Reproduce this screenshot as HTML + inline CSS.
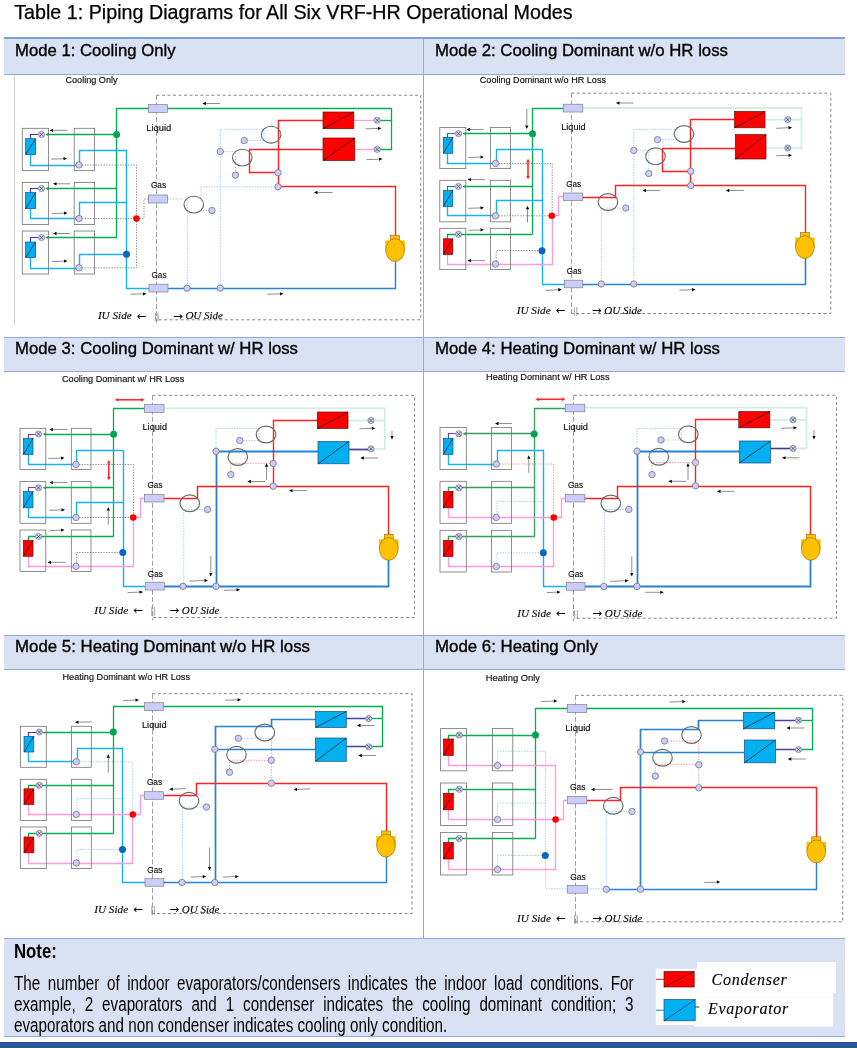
<!DOCTYPE html>
<html lang="en"><head><meta charset="utf-8"><title>Table 1: Piping Diagrams for All Six VRF-HR Operational Modes</title>
<style>
html,body{margin:0;padding:0;background:#fff}
body{width:857px;height:1048px;position:relative;overflow:hidden;font-family:"Liberation Sans",sans-serif;color:#000}
.abs{position:absolute}
.hdr{position:absolute;left:4px;width:841px;background:#d9e2f3;border-top:1px solid #8eaadb;border-bottom:1px solid #8eaadb;box-sizing:border-box}
.t{position:absolute;white-space:nowrap;transform-origin:0 0;line-height:1}
.nt{font-size:19.4px;line-height:22px;height:22px;transform:scaleX(0.785);color:#000}
.j{text-align:justify;text-align-last:justify;white-space:normal}
svg{position:absolute;left:0;top:0}
svg text{font-family:"Liberation Sans",sans-serif}
svg text.lab{stroke:#111;stroke-width:0.18px}
svg text.it{stroke:#000;stroke-width:0.12px}
svg text.ar{font-family:"DejaVu Sans","Liberation Sans",sans-serif}
svg text.it{font-family:"Liberation Serif","DejaVu Serif",serif;font-style:italic}
</style></head><body>
<div class="hdr" style="top:37px;height:38px;border-top:2px solid #7f9fd6"></div>
<div class="hdr" style="top:337px;height:35px"></div>
<div class="hdr" style="top:635px;height:35px"></div>
<div class="hdr" style="top:938px;height:99px"></div>
<div class="abs" style="left:423px;top:37px;width:1px;height:902px;background:#8eaadb"></div>
<div class="abs" style="left:0;top:1042px;width:857px;height:6px;background:#2b579a;border-top:1px solid #224b91;box-sizing:border-box"></div>
<svg width="857" height="1048" viewBox="0 0 857 1048">
<text x="14.2" y="19.3" font-size="19.8" textLength="558.5" lengthAdjust="spacingAndGlyphs" fill="#000" stroke="#000" stroke-width="0.25">Table 1: Piping Diagrams for All Six VRF-HR Operational Modes</text>
<g class="hd" font-size="17" fill="#000" stroke="#000" stroke-width="0.35">
<text x="15" y="56" textLength="160.5" lengthAdjust="spacingAndGlyphs">Mode 1: Cooling Only</text>
<text x="435" y="56" textLength="293" lengthAdjust="spacingAndGlyphs">Mode 2: Cooling Dominant w/o HR loss</text>
<text x="15" y="354" textLength="283" lengthAdjust="spacingAndGlyphs">Mode 3: Cooling Dominant w/ HR loss</text>
<text x="435" y="354" textLength="285" lengthAdjust="spacingAndGlyphs">Mode 4: Heating Dominant w/ HR loss</text>
<text x="15" y="652" textLength="295" lengthAdjust="spacingAndGlyphs">Mode 5: Heating Dominant w/o HR loss</text>
<text x="435" y="652" textLength="163" lengthAdjust="spacingAndGlyphs">Mode 6: Heating Only</text>
</g>
<rect x="14" y="75" width="1" height="250" fill="#d4d4d4"/>
<path d="M156.5 95.2 H420.8 V319.8 H156.5" fill="none" stroke="#868686" stroke-width="1" stroke-dasharray="3 2.5"/>
<path d="M156.5 95.2 V322.8" fill="none" stroke="#6e6e6e" stroke-width="0.65" stroke-dasharray="5 2.2"/>
<path d="M82 165 L136.5 165 L136.5 267.8 L82 267.8" fill="none" stroke="#747474" stroke-width="0.85" stroke-linejoin="miter" stroke-linecap="butt" stroke-dasharray="1.3 1.4"/>
<path d="M82 218.6 L133 218.6" fill="none" stroke="#747474" stroke-width="0.85" stroke-linejoin="miter" stroke-linecap="butt" stroke-dasharray="1.3 1.4"/>
<path d="M139.5 218.6 L144 218.6 L144 199 L148.5 199" fill="none" stroke="#747474" stroke-width="0.85" stroke-linejoin="miter" stroke-linecap="butt" stroke-dasharray="1.3 1.4"/>
<path d="M167.5 199 L184 199" fill="none" stroke="#8cc2ef" stroke-width="0.85" stroke-linejoin="miter" stroke-linecap="butt" stroke-dasharray="1.3 1.4"/>
<path d="M187.3 199 L187.3 287.6" fill="none" stroke="#8cc2ef" stroke-width="0.85" stroke-linejoin="miter" stroke-linecap="butt" stroke-dasharray="1.3 1.4"/>
<path d="M201 198 L201 186.8 L277.8 186.8" fill="none" stroke="#8cc2ef" stroke-width="0.85" stroke-linejoin="miter" stroke-linecap="butt" stroke-dasharray="1.3 1.4"/>
<path d="M203 210.4 L209 210.4" fill="none" stroke="#8cc2ef" stroke-width="0.85" stroke-linejoin="miter" stroke-linecap="butt" stroke-dasharray="1.3 1.4"/>
<path d="M220.3 287.6 L220.3 129.4 L264 129.4 L264 140.5 L247.5 140.5" fill="none" stroke="#8cc2ef" stroke-width="0.85" stroke-linejoin="miter" stroke-linecap="butt" stroke-dasharray="1.3 1.4"/>
<path d="M223.5 151.6 L235.5 151.6 L235.5 172" fill="none" stroke="#8cc2ef" stroke-width="0.85" stroke-linejoin="miter" stroke-linecap="butt" stroke-dasharray="1.3 1.4"/>
<path d="M47.5 134.5 L116.75 134.5" fill="none" stroke="#00b050" stroke-width="1.3" stroke-linejoin="miter" stroke-linecap="butt"/>
<path d="M45.2 134.5 l3.4 -1.7 v3.4 Z" fill="#00b050"/>
<path d="M38.5 134.5 L30.5 134.5 L30.5 139" fill="none" stroke="#3a3ab0" stroke-width="1.2" stroke-linejoin="miter" stroke-linecap="butt"/>
<path d="M47.5 188.5 L116.75 188.5" fill="none" stroke="#00b050" stroke-width="1.3" stroke-linejoin="miter" stroke-linecap="butt"/>
<path d="M45.2 188.5 l3.4 -1.7 v3.4 Z" fill="#00b050"/>
<path d="M38.5 188.5 L30.5 188.5 L30.5 193" fill="none" stroke="#3a3ab0" stroke-width="1.2" stroke-linejoin="miter" stroke-linecap="butt"/>
<path d="M47.5 237.5 L116.75 237.5" fill="none" stroke="#00b050" stroke-width="1.3" stroke-linejoin="miter" stroke-linecap="butt"/>
<path d="M45.2 237.5 l3.4 -1.7 v3.4 Z" fill="#00b050"/>
<path d="M38.5 237.5 L30.5 237.5 L30.5 242" fill="none" stroke="#3a3ab0" stroke-width="1.2" stroke-linejoin="miter" stroke-linecap="butt"/>
<path d="M116.5 237.5 L116.5 108.5 L391.5 108.5 L391.5 149.5 L380 149.5" fill="none" stroke="#00b050" stroke-width="1.3" stroke-linejoin="miter" stroke-linecap="butt"/>
<path d="M380 120.5 L391.5 120.5" fill="none" stroke="#00b050" stroke-width="1.3" stroke-linejoin="miter" stroke-linecap="butt"/>
<path d="M30.5 154.5 L30.5 165.5 L79.5 165.5 L79.5 150.5 L126.5 150.5" fill="none" stroke="#18b2f0" stroke-width="1.4" stroke-linejoin="miter" stroke-linecap="butt"/>
<path d="M30.5 208.6 L30.5 218.5 L79.5 218.5 L79.5 202.5 L126.5 202.5" fill="none" stroke="#18b2f0" stroke-width="1.4" stroke-linejoin="miter" stroke-linecap="butt"/>
<path d="M30.5 257.5 L30.5 268.5 L79.5 268.5 L79.5 254.5 L126.5 254.5" fill="none" stroke="#18b2f0" stroke-width="1.4" stroke-linejoin="miter" stroke-linecap="butt"/>
<path d="M126.5 150 L126.5 288.5 L149 288.5" fill="none" stroke="#18b2f0" stroke-width="1.4" stroke-linejoin="miter" stroke-linecap="butt"/>
<path d="M168 288.5 L395.5 288.5 L395.5 260" fill="none" stroke="#2583d4" stroke-width="1.4" stroke-linejoin="miter" stroke-linecap="butt"/>
<path d="M323 120.5 L278.5 120.5 L278.5 186.5 L395.5 186.5 L395.5 236" fill="none" stroke="#ff2020" stroke-width="1.4" stroke-linejoin="miter" stroke-linecap="butt"/>
<path d="M323 149.5 L249.5 149.5 L249.5 172.5 L278 172.5" fill="none" stroke="#ff2020" stroke-width="1.4" stroke-linejoin="miter" stroke-linecap="butt"/>
<path d="M354 120.5 L374.2 120.5" fill="none" stroke="#ff9ade" stroke-width="1.2" stroke-linejoin="miter" stroke-linecap="butt"/>
<path d="M355 149.5 L374.2 149.5" fill="none" stroke="#ff9ade" stroke-width="1.2" stroke-linejoin="miter" stroke-linecap="butt"/>
<rect x="22.3" y="128.3" width="26.3" height="42.1" fill="none" stroke="#747474" stroke-width="0.8"/>
<rect x="74.2" y="128.3" width="20.4" height="42.1" fill="none" stroke="#747474" stroke-width="0.8"/>
<rect x="22.3" y="182.4" width="26.3" height="42.1" fill="none" stroke="#747474" stroke-width="0.8"/>
<rect x="74.2" y="182.4" width="20.4" height="42.1" fill="none" stroke="#747474" stroke-width="0.8"/>
<rect x="22.3" y="231" width="26.3" height="43" fill="none" stroke="#747474" stroke-width="0.8"/>
<rect x="74.2" y="231" width="20.4" height="43" fill="none" stroke="#747474" stroke-width="0.8"/>
<rect x="148.5" y="104.5" width="19" height="7.9" fill="#ccccff" stroke="#808080" stroke-width="0.7"/>
<rect x="148.5" y="195" width="19" height="8" fill="#ccccff" stroke="#808080" stroke-width="0.7"/>
<rect x="149" y="284.2" width="19" height="7.8" fill="#ccccff" stroke="#808080" stroke-width="0.7"/>
<ellipse cx="193.8" cy="204.6" rx="9.8" ry="8.4" fill="none" stroke="#6a6a6a" stroke-width="1.15"/>
<ellipse cx="271.1" cy="134.7" rx="9.8" ry="8.4" fill="none" stroke="#6a6a6a" stroke-width="1.15"/>
<ellipse cx="242.3" cy="157.6" rx="9.8" ry="8.4" fill="none" stroke="#6a6a6a" stroke-width="1.15"/>
<circle cx="79" cy="165" r="3.2" fill="#ccccff" stroke="#6a6a6a" stroke-width="0.7"/>
<circle cx="79" cy="218.6" r="3.2" fill="#ccccff" stroke="#6a6a6a" stroke-width="0.7"/>
<circle cx="79" cy="267.8" r="3.2" fill="#ccccff" stroke="#6a6a6a" stroke-width="0.7"/>
<circle cx="212" cy="210.4" r="3.2" fill="#ccccff" stroke="#6a6a6a" stroke-width="0.7"/>
<circle cx="244.3" cy="140.5" r="3.2" fill="#ccccff" stroke="#6a6a6a" stroke-width="0.7"/>
<circle cx="220.3" cy="151.6" r="3.2" fill="#ccccff" stroke="#6a6a6a" stroke-width="0.7"/>
<circle cx="235.5" cy="175.2" r="3.2" fill="#ccccff" stroke="#6a6a6a" stroke-width="0.7"/>
<circle cx="278" cy="172.7" r="3.2" fill="#ccccff" stroke="#6a6a6a" stroke-width="0.7"/>
<circle cx="278" cy="186.8" r="3.2" fill="#ccccff" stroke="#6a6a6a" stroke-width="0.7"/>
<circle cx="187" cy="288.2" r="3.2" fill="#ccccff" stroke="#6a6a6a" stroke-width="0.7"/>
<circle cx="220.3" cy="288.2" r="3.2" fill="#ccccff" stroke="#6a6a6a" stroke-width="0.7"/>
<circle cx="116.6" cy="134.5" r="3.5" fill="#00a64f"/>
<circle cx="136.5" cy="218.6" r="3.3" fill="#ff0000"/>
<circle cx="126.5" cy="254.3" r="3.5" fill="#0b66c2"/>
<rect x="323" y="112" width="30.8" height="16.7" fill="#ff0000" stroke="#6a1010" stroke-width="0.7"/>
<path d="M323 128.7 L353.8 112" stroke="#3a0000" stroke-width="0.8" fill="none"/>
<rect x="323" y="138" width="31.8" height="22.5" fill="#ff0000" stroke="#6a1010" stroke-width="0.7"/>
<path d="M323 160.5 L354.8 138" stroke="#3a0000" stroke-width="0.8" fill="none"/>
<rect x="25.6" y="138.7" width="10" height="15.9" fill="#00b0f0" stroke="#1f4e79" stroke-width="0.7"/>
<path d="M25.6 154.6 L35.6 138.7" stroke="#10253f" stroke-width="0.8" fill="none"/>
<rect x="25.6" y="192.6" width="10" height="16.1" fill="#00b0f0" stroke="#1f4e79" stroke-width="0.7"/>
<path d="M25.6 208.7 L35.6 192.6" stroke="#10253f" stroke-width="0.8" fill="none"/>
<rect x="25.6" y="242" width="10" height="15.6" fill="#00b0f0" stroke="#1f4e79" stroke-width="0.7"/>
<path d="M25.6 257.6 L35.6 242" stroke="#10253f" stroke-width="0.8" fill="none"/>
<circle cx="377.2" cy="120.25" r="3.1" fill="#ccccff" stroke="#666" stroke-width="0.6"/>
<path d="M375.28 118.33 L379.12 122.17 M375.28 122.17 L379.12 118.33" stroke="#444" stroke-width="0.7" fill="none"/>
<circle cx="377.2" cy="149.3" r="3.1" fill="#ccccff" stroke="#666" stroke-width="0.6"/>
<path d="M375.28 147.38 L379.12 151.22 M375.28 151.22 L379.12 147.38" stroke="#444" stroke-width="0.7" fill="none"/>
<circle cx="41.5" cy="134.5" r="3.1" fill="#ccccff" stroke="#666" stroke-width="0.6"/>
<path d="M39.58 132.58 L43.42 136.42 M39.58 136.42 L43.42 132.58" stroke="#444" stroke-width="0.7" fill="none"/>
<circle cx="41.5" cy="188.5" r="3.1" fill="#ccccff" stroke="#666" stroke-width="0.6"/>
<path d="M39.58 186.58 L43.42 190.42 M39.58 190.42 L43.42 186.58" stroke="#444" stroke-width="0.7" fill="none"/>
<circle cx="41.5" cy="237.5" r="3.1" fill="#ccccff" stroke="#666" stroke-width="0.6"/>
<path d="M39.58 235.58 L43.42 239.42 M39.58 239.42 L43.42 235.58" stroke="#444" stroke-width="0.7" fill="none"/>
<rect x="385.3" y="240.5" width="19.6" height="10" fill="#ffc000"/>
<rect x="390.6" y="235.5" width="9" height="5.5" fill="#ffc000" stroke="#8a6a10" stroke-width="0.6"/>
<ellipse cx="395.1" cy="250.1" rx="9.4" ry="11.4" fill="#ffc000" stroke="#8a6a10" stroke-width="0.6"/>
<path d="M67.5 130.3 L53 130.3" stroke="#444" stroke-width="0.6" fill="none"/>
<path d="M49.5 130.3 L53 128.65 L53 131.95 Z" fill="#000"/>
<path d="M51 159.1 L63.5 158.71" stroke="#444" stroke-width="0.6" fill="none"/>
<path d="M67 158.6 L63.55 160.36 L63.45 157.06 Z" fill="#000"/>
<path d="M70.5 183.8 L56.5 183.8" stroke="#444" stroke-width="0.6" fill="none"/>
<path d="M53 183.8 L56.5 182.15 L56.5 185.45 Z" fill="#000"/>
<path d="M51.5 213.6 L64 213.21" stroke="#444" stroke-width="0.6" fill="none"/>
<path d="M67.5 213.1 L64.05 214.86 L63.95 211.56 Z" fill="#000"/>
<path d="M70.5 233.5 L56.5 233.5" stroke="#444" stroke-width="0.6" fill="none"/>
<path d="M53 233.5 L56.5 231.85 L56.5 235.15 Z" fill="#000"/>
<path d="M52 261.6 L64 261.21" stroke="#444" stroke-width="0.6" fill="none"/>
<path d="M67.5 261.1 L64.06 262.86 L63.95 259.56 Z" fill="#000"/>
<path d="M220 103.5 L205.9 103.5" stroke="#444" stroke-width="0.6" fill="none"/>
<path d="M202.4 103.5 L205.9 101.85 L205.9 105.15 Z" fill="#000"/>
<path d="M365.5 128.8 L378 128.41" stroke="#444" stroke-width="0.6" fill="none"/>
<path d="M381.5 128.3 L378.05 130.06 L377.95 126.76 Z" fill="#000"/>
<path d="M366.5 159.6 L379 159.21" stroke="#444" stroke-width="0.6" fill="none"/>
<path d="M382.5 159.1 L379.05 160.86 L378.95 157.56 Z" fill="#000"/>
<path d="M332.5 192.5 L317.5 192.5" stroke="#444" stroke-width="0.6" fill="none"/>
<path d="M314 192.5 L317.5 190.85 L317.5 194.15 Z" fill="#000"/>
<path d="M267.2 294.2 L280 293.81" stroke="#444" stroke-width="0.6" fill="none"/>
<path d="M283.5 293.7 L280.05 295.46 L279.95 292.16 Z" fill="#000"/>
<path d="M130.5 294.2 L143 293.81" stroke="#444" stroke-width="0.6" fill="none"/>
<path d="M146.5 293.7 L143.05 295.46 L142.95 292.16 Z" fill="#000"/>
<text x="65.5" y="83" class="lab" font-size="9.9" textLength="52" lengthAdjust="spacingAndGlyphs" fill="#111">Cooling Only</text>
<text x="146.2" y="130.6" class="lab" font-size="9.9" textLength="25" lengthAdjust="spacingAndGlyphs" fill="#111">Liquid</text>
<text x="151" y="188" class="lab" font-size="9.9" textLength="15" lengthAdjust="spacingAndGlyphs" fill="#111">Gas</text>
<text x="151.5" y="278" class="lab" font-size="9.9" textLength="15" lengthAdjust="spacingAndGlyphs" fill="#111">Gas</text>
<text x="97.9" y="319.3" class="it" font-size="11.2" textLength="33.8" lengthAdjust="spacingAndGlyphs" fill="#000">IU Side</text>
<text x="136.5" y="319.9" class="ar" font-size="11" textLength="9.8" lengthAdjust="spacingAndGlyphs" fill="#000">←</text>
<path d="M155.4 312.7 v8.6 M158 312.7 v8.6" stroke="#555" stroke-width="0.55" fill="none"/>
<text x="172.9" y="319.9" class="ar" font-size="11" textLength="9.8" lengthAdjust="spacingAndGlyphs" fill="#000">→</text>
<text x="185.4" y="319.3" class="it" font-size="11.2" textLength="37.6" lengthAdjust="spacingAndGlyphs" fill="#000">OU Side</text>
<path d="M571.3 93.2 H830.8 V313.5 H571.3" fill="none" stroke="#868686" stroke-width="1" stroke-dasharray="3 2.5"/>
<path d="M571.5 93.2 V316.5" fill="none" stroke="#6e6e6e" stroke-width="0.65" stroke-dasharray="5 2.2"/>
<path d="M498.5 163.5 L552.2 163.5 L552.2 213" fill="none" stroke="#747474" stroke-width="0.85" stroke-linejoin="miter" stroke-linecap="butt" stroke-dasharray="1.3 1.4"/>
<path d="M498.5 215.8 L549 215.8" fill="none" stroke="#747474" stroke-width="0.85" stroke-linejoin="miter" stroke-linecap="butt" stroke-dasharray="1.3 1.4"/>
<path d="M496.2 261 L496.2 250.6 L539 250.6" fill="none" stroke="#747474" stroke-width="0.85" stroke-linejoin="miter" stroke-linecap="butt" stroke-dasharray="1.3 1.4"/>
<path d="M601.3 284 L601.3 208 L622.5 208" fill="none" stroke="#8cc2ef" stroke-width="0.85" stroke-linejoin="miter" stroke-linecap="butt" stroke-dasharray="1.3 1.4"/>
<path d="M633.8 284 L633.8 129.4 L677 129.4 L677 139.6 L660.5 139.6" fill="none" stroke="#8cc2ef" stroke-width="0.85" stroke-linejoin="miter" stroke-linecap="butt" stroke-dasharray="1.3 1.4"/>
<path d="M637 150.4 L648.8 150.4 L648.8 170.5" fill="none" stroke="#8cc2ef" stroke-width="0.85" stroke-linejoin="miter" stroke-linecap="butt" stroke-dasharray="1.3 1.4"/>
<path d="M465 133.5 L532.5 133.5" fill="none" stroke="#00b050" stroke-width="1.3" stroke-linejoin="miter" stroke-linecap="butt"/>
<path d="M462.6 133.6 l3.4 -1.7 v3.4 Z" fill="#00b050"/>
<path d="M455.5 133.5 L447.5 133.5 L447.5 138.1" fill="none" stroke="#2f6fc0" stroke-width="1.2" stroke-linejoin="miter" stroke-linecap="butt"/>
<path d="M465 186.5 L532.5 186.5" fill="none" stroke="#00b050" stroke-width="1.3" stroke-linejoin="miter" stroke-linecap="butt"/>
<path d="M462.6 186.5 l3.4 -1.7 v3.4 Z" fill="#00b050"/>
<path d="M455.5 186.5 L447.5 186.5 L447.5 191" fill="none" stroke="#2f6fc0" stroke-width="1.2" stroke-linejoin="miter" stroke-linecap="butt"/>
<path d="M447.5 239 L447.5 234.5 L532.5 234.5" fill="none" stroke="#00b050" stroke-width="1.3" stroke-linejoin="miter" stroke-linecap="butt"/>
<path d="M532.5 234.3 L532.5 108.5 L563.5 108.5" fill="none" stroke="#00b050" stroke-width="1.3" stroke-linejoin="miter" stroke-linecap="butt"/>
<path d="M582.5 108 L801.5 108 L801.5 148.2 L766 148.2" fill="none" stroke="#d3efe1" stroke-width="1.8" stroke-linejoin="miter" stroke-linecap="butt"/>
<path d="M765 119.6 L801.5 119.6" fill="none" stroke="#d3efe1" stroke-width="1.8" stroke-linejoin="miter" stroke-linecap="butt"/>
<path d="M447.5 153.3 L447.5 163.5 L496.5 163.5 L496.5 149.5 L542 149.5" fill="none" stroke="#18b2f0" stroke-width="1.4" stroke-linejoin="miter" stroke-linecap="butt"/>
<path d="M447.5 206.5 L447.5 215.5 L496.5 215.5 L496.5 200.5 L542 200.5" fill="none" stroke="#18b2f0" stroke-width="1.4" stroke-linejoin="miter" stroke-linecap="butt"/>
<path d="M542.5 148.9 L542.5 284.5 L564.5 284.5" fill="none" stroke="#18b2f0" stroke-width="1.4" stroke-linejoin="miter" stroke-linecap="butt"/>
<path d="M582.5 284.5 L805.5 284.5 L805.5 257" fill="none" stroke="#2583d4" stroke-width="1.6" stroke-linejoin="miter" stroke-linecap="butt"/>
<path d="M447.5 254.5 L447.5 264.5 L552.5 264.5 L552.5 215.5 L558.5 215.5 L558.5 196.5 L563.5 196.5" fill="none" stroke="#ff9ade" stroke-width="1.3" stroke-linejoin="miter" stroke-linecap="butt"/>
<path d="M582.5 197.5 L615.5 197.5 L615.5 185.5 L805.5 185.5 L805.5 233" fill="none" stroke="#ff2020" stroke-width="1.4" stroke-linejoin="miter" stroke-linecap="butt"/>
<path d="M734.5 119.5 L690.5 119.5 L690.5 185.5" fill="none" stroke="#ff2020" stroke-width="1.4" stroke-linejoin="miter" stroke-linecap="butt"/>
<path d="M735 148.5 L662.5 148.5 L662.5 171.5 L690.5 171.5" fill="none" stroke="#ff2020" stroke-width="1.4" stroke-linejoin="miter" stroke-linecap="butt"/>
<rect x="439.8" y="127.5" width="26" height="41.1" fill="none" stroke="#747474" stroke-width="0.8"/>
<rect x="490.5" y="127.5" width="20.1" height="41.1" fill="none" stroke="#747474" stroke-width="0.8"/>
<rect x="439.8" y="180.3" width="26" height="41.5" fill="none" stroke="#747474" stroke-width="0.8"/>
<rect x="490.5" y="180.3" width="20.1" height="41.5" fill="none" stroke="#747474" stroke-width="0.8"/>
<rect x="439.8" y="228.3" width="26" height="41.3" fill="none" stroke="#747474" stroke-width="0.8"/>
<rect x="490.5" y="228.3" width="20.1" height="41.3" fill="none" stroke="#747474" stroke-width="0.8"/>
<rect x="563.3" y="104.2" width="19.5" height="7.8" fill="#ccccff" stroke="#808080" stroke-width="0.7"/>
<rect x="563.3" y="193" width="19.5" height="7.6" fill="#ccccff" stroke="#808080" stroke-width="0.7"/>
<rect x="564.3" y="280.2" width="18.5" height="7.6" fill="#ccccff" stroke="#808080" stroke-width="0.7"/>
<ellipse cx="608" cy="202" rx="9.8" ry="8.4" fill="none" stroke="#6a6a6a" stroke-width="1.15"/>
<ellipse cx="684" cy="134" rx="9.8" ry="8.4" fill="none" stroke="#6a6a6a" stroke-width="1.15"/>
<ellipse cx="655.5" cy="156.3" rx="9.8" ry="8.4" fill="none" stroke="#6a6a6a" stroke-width="1.15"/>
<circle cx="495.5" cy="163.5" r="3.2" fill="#ccccff" stroke="#6a6a6a" stroke-width="0.7"/>
<circle cx="495.5" cy="215.8" r="3.2" fill="#ccccff" stroke="#6a6a6a" stroke-width="0.7"/>
<circle cx="495.5" cy="264" r="3.2" fill="#ccccff" stroke="#6a6a6a" stroke-width="0.7"/>
<circle cx="625.8" cy="208" r="3.2" fill="#ccccff" stroke="#6a6a6a" stroke-width="0.7"/>
<circle cx="657.5" cy="139.6" r="3.2" fill="#ccccff" stroke="#6a6a6a" stroke-width="0.7"/>
<circle cx="633.8" cy="150.4" r="3.2" fill="#ccccff" stroke="#6a6a6a" stroke-width="0.7"/>
<circle cx="648.8" cy="173.6" r="3.2" fill="#ccccff" stroke="#6a6a6a" stroke-width="0.7"/>
<circle cx="690.7" cy="171.2" r="3.2" fill="#ccccff" stroke="#6a6a6a" stroke-width="0.7"/>
<circle cx="690.7" cy="185.5" r="3.2" fill="#ccccff" stroke="#6a6a6a" stroke-width="0.7"/>
<circle cx="601.3" cy="284" r="3.2" fill="#ccccff" stroke="#6a6a6a" stroke-width="0.7"/>
<circle cx="633.8" cy="284" r="3.2" fill="#ccccff" stroke="#6a6a6a" stroke-width="0.7"/>
<circle cx="532.5" cy="133.7" r="3.5" fill="#00a64f"/>
<circle cx="551.8" cy="215.8" r="3.3" fill="#ff0000"/>
<circle cx="542" cy="250.7" r="3.5" fill="#0b66c2"/>
<rect x="734.5" y="111.5" width="30.5" height="16.3" fill="#ff0000" stroke="#6a1010" stroke-width="0.7"/>
<path d="M734.5 127.8 L765 111.5" stroke="#3a0000" stroke-width="0.8" fill="none"/>
<rect x="735.3" y="134.5" width="30.7" height="24.5" fill="#ff0000" stroke="#6a1010" stroke-width="0.7"/>
<path d="M735.3 159 L766 134.5" stroke="#3a0000" stroke-width="0.8" fill="none"/>
<rect x="443.3" y="137.5" width="9.5" height="15.8" fill="#00b0f0" stroke="#1f4e79" stroke-width="0.7"/>
<path d="M443.3 153.3 L452.8 137.5" stroke="#10253f" stroke-width="0.8" fill="none"/>
<rect x="443.3" y="190.5" width="9.5" height="16" fill="#00b0f0" stroke="#1f4e79" stroke-width="0.7"/>
<path d="M443.3 206.5 L452.8 190.5" stroke="#10253f" stroke-width="0.8" fill="none"/>
<rect x="443.3" y="238.8" width="9.5" height="15.7" fill="#ff0000" stroke="#6a1010" stroke-width="0.7"/>
<path d="M443.3 254.5 L452.8 238.8" stroke="#3a0000" stroke-width="0.8" fill="none"/>
<circle cx="787.8" cy="119.6" r="3.1" fill="#ccccff" stroke="#666" stroke-width="0.6"/>
<path d="M785.88 117.68 L789.72 121.52 M785.88 121.52 L789.72 117.68" stroke="#444" stroke-width="0.7" fill="none"/>
<circle cx="787.8" cy="148" r="3.1" fill="#ccccff" stroke="#666" stroke-width="0.6"/>
<path d="M785.88 146.08 L789.72 149.92 M785.88 149.92 L789.72 146.08" stroke="#444" stroke-width="0.7" fill="none"/>
<circle cx="458.5" cy="133.6" r="3.1" fill="#ccccff" stroke="#666" stroke-width="0.6"/>
<path d="M456.58 131.68 L460.42 135.52 M456.58 135.52 L460.42 131.68" stroke="#444" stroke-width="0.7" fill="none"/>
<circle cx="458.5" cy="186.5" r="3.1" fill="#ccccff" stroke="#666" stroke-width="0.6"/>
<path d="M456.58 184.58 L460.42 188.42 M456.58 188.42 L460.42 184.58" stroke="#444" stroke-width="0.7" fill="none"/>
<circle cx="458.5" cy="234.3" r="3.1" fill="#ccccff" stroke="#666" stroke-width="0.6"/>
<path d="M456.58 232.38 L460.42 236.22 M456.58 236.22 L460.42 232.38" stroke="#444" stroke-width="0.7" fill="none"/>
<rect x="795.1" y="237.5" width="19.6" height="10" fill="#ffc000"/>
<rect x="800.4" y="232.5" width="9" height="5.5" fill="#ffc000" stroke="#8a6a10" stroke-width="0.6"/>
<ellipse cx="804.9" cy="247.1" rx="9.4" ry="11.4" fill="#ffc000" stroke="#8a6a10" stroke-width="0.6"/>
<path d="M483.5 129.5 L469.8 129.5" stroke="#444" stroke-width="0.6" fill="none"/>
<path d="M466.3 129.5 L469.8 127.85 L469.8 131.15 Z" fill="#000"/>
<path d="M468.3 157.5 L480.5 157.11" stroke="#444" stroke-width="0.6" fill="none"/>
<path d="M484 157 L480.55 158.76 L480.45 155.46 Z" fill="#000"/>
<path d="M485 179.6 L471 179.6" stroke="#444" stroke-width="0.6" fill="none"/>
<path d="M467.5 179.6 L471 177.95 L471 181.25 Z" fill="#000"/>
<path d="M468.3 208.3 L480.5 207.91" stroke="#444" stroke-width="0.6" fill="none"/>
<path d="M484 207.8 L480.55 209.56 L480.45 206.26 Z" fill="#000"/>
<path d="M468.3 230.3 L480.5 229.91" stroke="#444" stroke-width="0.6" fill="none"/>
<path d="M484 229.8 L480.55 231.56 L480.45 228.26 Z" fill="#000"/>
<path d="M485 260.6 L471 260.6" stroke="#444" stroke-width="0.6" fill="none"/>
<path d="M467.5 260.6 L471 258.95 L471 262.25 Z" fill="#000"/>
<path d="M526.8 108.8 L526.8 125.5" stroke="#444" stroke-width="0.6" fill="none"/>
<path d="M526.8 129 L525.15 125.5 L528.45 125.5 Z" fill="#000"/>
<path d="M527.5 222.5 L527.5 209.3" stroke="#444" stroke-width="0.6" fill="none"/>
<path d="M527.5 205.8 L529.15 209.3 L525.85 209.3 Z" fill="#000"/>
<path d="M545.5 290.4 L558.3 289.77" stroke="#444" stroke-width="0.6" fill="none"/>
<path d="M561.8 289.6 L558.39 291.42 L558.22 288.12 Z" fill="#000"/>
<path d="M633.5 103 L619.5 103" stroke="#444" stroke-width="0.6" fill="none"/>
<path d="M616 103 L619.5 101.35 L619.5 104.65 Z" fill="#000"/>
<path d="M776.3 128.3 L788.5 127.76" stroke="#444" stroke-width="0.6" fill="none"/>
<path d="M792 127.6 L788.58 129.4 L788.43 126.11 Z" fill="#000"/>
<path d="M776.3 155.7 L788.5 155.31" stroke="#444" stroke-width="0.6" fill="none"/>
<path d="M792 155.2 L788.55 156.96 L788.45 153.66 Z" fill="#000"/>
<path d="M660 190.5 L646 190.5" stroke="#444" stroke-width="0.6" fill="none"/>
<path d="M642.5 190.5 L646 188.85 L646 192.15 Z" fill="#000"/>
<path d="M743.8 190.5 L729.3 190.5" stroke="#444" stroke-width="0.6" fill="none"/>
<path d="M725.8 190.5 L729.3 188.85 L729.3 192.15 Z" fill="#000"/>
<path d="M679.5 290.2 L692 289.73" stroke="#444" stroke-width="0.6" fill="none"/>
<path d="M695.5 289.6 L692.06 291.38 L691.94 288.08 Z" fill="#000"/>
<path d="M528 162.2 L528 175.9" stroke="#ff2020" stroke-width="1.5" fill="none"/>
<path d="M528 179.3 L526.1 175.9 L529.9 175.9 Z" fill="#ff2020"/>
<path d="M528 158.8 L526.1 162.2 L529.9 162.2 Z" fill="#ff2020"/>
<text x="479.8" y="83" class="lab" font-size="9.9" textLength="126.2" lengthAdjust="spacingAndGlyphs" fill="#111">Cooling Dominant w/o HR Loss</text>
<text x="561.3" y="130.2" class="lab" font-size="9.9" textLength="24.2" lengthAdjust="spacingAndGlyphs" fill="#111">Liquid</text>
<text x="566.3" y="186.8" class="lab" font-size="9.9" textLength="14.7" lengthAdjust="spacingAndGlyphs" fill="#111">Gas</text>
<text x="566.8" y="274.4" class="lab" font-size="9.9" textLength="14.7" lengthAdjust="spacingAndGlyphs" fill="#111">Gas</text>
<text x="516.8" y="313.8" class="it" font-size="11.2" textLength="33.8" lengthAdjust="spacingAndGlyphs" fill="#000">IU Side</text>
<text x="555.4" y="314.4" class="ar" font-size="11" textLength="9.8" lengthAdjust="spacingAndGlyphs" fill="#000">←</text>
<path d="M574.3 307.2 v8.6 M576.9 307.2 v8.6" stroke="#555" stroke-width="0.55" fill="none"/>
<text x="591.8" y="314.4" class="ar" font-size="11" textLength="9.8" lengthAdjust="spacingAndGlyphs" fill="#000">→</text>
<text x="604.3" y="313.8" class="it" font-size="11.2" textLength="37.6" lengthAdjust="spacingAndGlyphs" fill="#000">OU Side</text>
<path d="M152.5 395.3 H414.5 V617.5 H152.5" fill="none" stroke="#868686" stroke-width="1" stroke-dasharray="3 2.5"/>
<path d="M152.5 395.3 V620.5" fill="none" stroke="#6e6e6e" stroke-width="0.65" stroke-dasharray="5 2.2"/>
<path d="M79 464.5 L133.6 464.5 L133.6 515" fill="none" stroke="#747474" stroke-width="0.85" stroke-linejoin="miter" stroke-linecap="butt" stroke-dasharray="1.3 1.4"/>
<path d="M79 517.5 L130.5 517.5" fill="none" stroke="#747474" stroke-width="0.85" stroke-linejoin="miter" stroke-linecap="butt" stroke-dasharray="1.3 1.4"/>
<path d="M76.6 563.5 L76.6 552.5 L120 552.5" fill="none" stroke="#747474" stroke-width="0.85" stroke-linejoin="miter" stroke-linecap="butt" stroke-dasharray="1.3 1.4"/>
<path d="M183.8 586 L183.8 509.5 L204.5 509.5" fill="none" stroke="#8cc2ef" stroke-width="0.85" stroke-linejoin="miter" stroke-linecap="butt" stroke-dasharray="1.3 1.4"/>
<path d="M216 451 L216 428.5 L259 428.5 L259 440.5 L243 440.5" fill="none" stroke="#8cc2ef" stroke-width="0.85" stroke-linejoin="miter" stroke-linecap="butt" stroke-dasharray="1.3 1.4"/>
<path d="M270 463.3 L230.8 463.3 L230.8 471.5" fill="none" stroke="#ff7a7a" stroke-width="0.85" stroke-linejoin="miter" stroke-linecap="butt" stroke-dasharray="1.3 1.4"/>
<path d="M45 434.5 L113.8 434.5" fill="none" stroke="#00b050" stroke-width="1.3" stroke-linejoin="miter" stroke-linecap="butt"/>
<path d="M42.6 434 l3.4 -1.7 v3.4 Z" fill="#00b050"/>
<path d="M35.5 434.5 L28.5 434.5 L28.5 438.5" fill="none" stroke="#7a40b0" stroke-width="1.2" stroke-linejoin="miter" stroke-linecap="butt"/>
<path d="M45 487.5 L113.8 487.5" fill="none" stroke="#00b050" stroke-width="1.3" stroke-linejoin="miter" stroke-linecap="butt"/>
<path d="M42.6 487.8 l3.4 -1.7 v3.4 Z" fill="#00b050"/>
<path d="M35.5 487.5 L28.5 487.5 L28.5 492.3" fill="none" stroke="#7a40b0" stroke-width="1.2" stroke-linejoin="miter" stroke-linecap="butt"/>
<path d="M28.5 540.5 L28.5 536.5 L113.8 536.5" fill="none" stroke="#00b050" stroke-width="1.3" stroke-linejoin="miter" stroke-linecap="butt"/>
<path d="M113.5 536.4 L113.5 408.5 L144.5 408.5" fill="none" stroke="#00b050" stroke-width="1.3" stroke-linejoin="miter" stroke-linecap="butt"/>
<path d="M164 408.4 L384.8 408.4 L384.8 448.8 L374 448.8" fill="none" stroke="#d3efe1" stroke-width="1.8" stroke-linejoin="miter" stroke-linecap="butt"/>
<path d="M348 420.5 L384.8 420.5" fill="none" stroke="#d3efe1" stroke-width="1.8" stroke-linejoin="miter" stroke-linecap="butt"/>
<path d="M28.5 454.5 L28.5 464.5 L76.5 464.5 L76.5 450.5 L123 450.5" fill="none" stroke="#18b2f0" stroke-width="1.4" stroke-linejoin="miter" stroke-linecap="butt"/>
<path d="M28.5 507.8 L28.5 517.5 L76.5 517.5 L76.5 502.5 L123 502.5" fill="none" stroke="#18b2f0" stroke-width="1.4" stroke-linejoin="miter" stroke-linecap="butt"/>
<path d="M123.5 449.9 L123.5 586.5 L145.5 586.5" fill="none" stroke="#18b2f0" stroke-width="1.4" stroke-linejoin="miter" stroke-linecap="butt"/>
<path d="M164 586.5 L388.5 586.5 L388.5 558" fill="none" stroke="#2583d4" stroke-width="1.8" stroke-linejoin="miter" stroke-linecap="butt"/>
<path d="M216.5 586.3 L216.5 451.5 L318 451.5" fill="none" stroke="#2583d4" stroke-width="1.8" stroke-linejoin="miter" stroke-linecap="butt"/>
<path d="M28.5 556.3 L28.5 566.5 L133.5 566.5 L133.5 517.5 L140.5 517.5 L140.5 498.5 L144.5 498.5" fill="none" stroke="#ff9ade" stroke-width="1.3" stroke-linejoin="miter" stroke-linecap="butt"/>
<path d="M164 498.5 L197.5 498.5 L197.5 486.5 L388.5 486.5 L388.5 535" fill="none" stroke="#ff2020" stroke-width="1.4" stroke-linejoin="miter" stroke-linecap="butt"/>
<path d="M317.3 420.5 L273.5 420.5 L273.5 486.2" fill="none" stroke="#ff2020" stroke-width="1.4" stroke-linejoin="miter" stroke-linecap="butt"/>
<path d="M349 449.5 L368 449.5" fill="none" stroke="#4a4a90" stroke-width="1.8" stroke-linejoin="miter" stroke-linecap="butt"/>
<rect x="20" y="428.3" width="25.8" height="41.3" fill="none" stroke="#747474" stroke-width="0.8"/>
<rect x="71.3" y="428.3" width="19.7" height="41.3" fill="none" stroke="#747474" stroke-width="0.8"/>
<rect x="20" y="481.5" width="25.8" height="41.8" fill="none" stroke="#747474" stroke-width="0.8"/>
<rect x="71.3" y="481.5" width="19.7" height="41.8" fill="none" stroke="#747474" stroke-width="0.8"/>
<rect x="20" y="530" width="25.8" height="41.6" fill="none" stroke="#747474" stroke-width="0.8"/>
<rect x="71.3" y="530" width="19.7" height="41.6" fill="none" stroke="#747474" stroke-width="0.8"/>
<rect x="144.5" y="404.5" width="19.5" height="7.9" fill="#ccccff" stroke="#808080" stroke-width="0.7"/>
<rect x="144.5" y="494.5" width="19.5" height="7.5" fill="#ccccff" stroke="#808080" stroke-width="0.7"/>
<rect x="145.5" y="582.2" width="18.8" height="7.8" fill="#ccccff" stroke="#808080" stroke-width="0.7"/>
<ellipse cx="189.8" cy="503.3" rx="9.8" ry="8.4" fill="none" stroke="#6a6a6a" stroke-width="1.15"/>
<ellipse cx="266" cy="434.5" rx="9.8" ry="8.4" fill="none" stroke="#6a6a6a" stroke-width="1.15"/>
<ellipse cx="237.8" cy="457" rx="9.8" ry="8.4" fill="none" stroke="#6a6a6a" stroke-width="1.15"/>
<circle cx="76" cy="464.5" r="3.2" fill="#ccccff" stroke="#6a6a6a" stroke-width="0.7"/>
<circle cx="76" cy="517.5" r="3.2" fill="#ccccff" stroke="#6a6a6a" stroke-width="0.7"/>
<circle cx="76" cy="566.3" r="3.2" fill="#ccccff" stroke="#6a6a6a" stroke-width="0.7"/>
<circle cx="207.5" cy="509.5" r="3.2" fill="#ccccff" stroke="#6a6a6a" stroke-width="0.7"/>
<circle cx="239.8" cy="440.5" r="3.2" fill="#ccccff" stroke="#6a6a6a" stroke-width="0.7"/>
<circle cx="216" cy="451.3" r="3.2" fill="#ccccff" stroke="#6a6a6a" stroke-width="0.7"/>
<circle cx="230.8" cy="474.6" r="3.2" fill="#ccccff" stroke="#6a6a6a" stroke-width="0.7"/>
<circle cx="273.2" cy="463.5" r="3.2" fill="#ccccff" stroke="#6a6a6a" stroke-width="0.7"/>
<circle cx="273.2" cy="486.2" r="3.2" fill="#ccccff" stroke="#6a6a6a" stroke-width="0.7"/>
<circle cx="183" cy="586.3" r="3.2" fill="#ccccff" stroke="#6a6a6a" stroke-width="0.7"/>
<circle cx="216" cy="586.3" r="3.2" fill="#ccccff" stroke="#6a6a6a" stroke-width="0.7"/>
<circle cx="113.6" cy="434.2" r="3.5" fill="#00a64f"/>
<circle cx="133.2" cy="517.5" r="3.3" fill="#ff0000"/>
<circle cx="122.8" cy="552.6" r="3.5" fill="#0b66c2"/>
<rect x="317.3" y="412" width="30.7" height="16.5" fill="#ff0000" stroke="#6a1010" stroke-width="0.7"/>
<path d="M317.3 428.5 L348 412" stroke="#3a0000" stroke-width="0.8" fill="none"/>
<rect x="318" y="441.5" width="31" height="22.3" fill="#00b0f0" stroke="#1f4e79" stroke-width="0.7"/>
<path d="M318 463.8 L349 441.5" stroke="#10253f" stroke-width="0.8" fill="none"/>
<rect x="23.3" y="438.3" width="9.7" height="16.2" fill="#00b0f0" stroke="#1f4e79" stroke-width="0.7"/>
<path d="M23.3 454.5 L33 438.3" stroke="#10253f" stroke-width="0.8" fill="none"/>
<rect x="23.3" y="491.5" width="9.7" height="16.3" fill="#00b0f0" stroke="#1f4e79" stroke-width="0.7"/>
<path d="M23.3 507.8 L33 491.5" stroke="#10253f" stroke-width="0.8" fill="none"/>
<rect x="23.3" y="540.3" width="9.7" height="16" fill="#ff0000" stroke="#6a1010" stroke-width="0.7"/>
<path d="M23.3 556.3 L33 540.3" stroke="#3a0000" stroke-width="0.8" fill="none"/>
<circle cx="371" cy="420.5" r="3.1" fill="#ccccff" stroke="#666" stroke-width="0.6"/>
<path d="M369.08 418.58 L372.92 422.42 M369.08 422.42 L372.92 418.58" stroke="#444" stroke-width="0.7" fill="none"/>
<circle cx="371" cy="448.8" r="3.1" fill="#ccccff" stroke="#666" stroke-width="0.6"/>
<path d="M369.08 446.88 L372.92 450.72 M369.08 450.72 L372.92 446.88" stroke="#444" stroke-width="0.7" fill="none"/>
<circle cx="38.5" cy="434" r="3.1" fill="#ccccff" stroke="#666" stroke-width="0.6"/>
<path d="M36.58 432.08 L40.42 435.92 M36.58 435.92 L40.42 432.08" stroke="#444" stroke-width="0.7" fill="none"/>
<circle cx="38.5" cy="487.8" r="3.1" fill="#ccccff" stroke="#666" stroke-width="0.6"/>
<path d="M36.58 485.88 L40.42 489.72 M36.58 489.72 L40.42 485.88" stroke="#444" stroke-width="0.7" fill="none"/>
<circle cx="38.5" cy="536.5" r="3.1" fill="#ccccff" stroke="#666" stroke-width="0.6"/>
<path d="M36.58 534.58 L40.42 538.42 M36.58 538.42 L40.42 534.58" stroke="#444" stroke-width="0.7" fill="none"/>
<rect x="378.9" y="539.3" width="19.6" height="10" fill="#ffc000"/>
<rect x="384.2" y="534.3" width="9" height="5.5" fill="#ffc000" stroke="#8a6a10" stroke-width="0.6"/>
<ellipse cx="388.7" cy="548.9" rx="9.4" ry="11.4" fill="#ffc000" stroke="#8a6a10" stroke-width="0.6"/>
<path d="M67.5 429.5 L52.8 429.5" stroke="#444" stroke-width="0.6" fill="none"/>
<path d="M49.3 429.5 L52.8 427.85 L52.8 431.15 Z" fill="#000"/>
<path d="M48.3 458.5 L61 458.11" stroke="#444" stroke-width="0.6" fill="none"/>
<path d="M64.5 458 L61.05 459.76 L60.95 456.46 Z" fill="#000"/>
<path d="M67.5 482.6 L52.8 482.6" stroke="#444" stroke-width="0.6" fill="none"/>
<path d="M49.3 482.6 L52.8 480.95 L52.8 484.25 Z" fill="#000"/>
<path d="M49 510.3 L61.5 509.91" stroke="#444" stroke-width="0.6" fill="none"/>
<path d="M65 509.8 L61.55 511.56 L61.45 508.26 Z" fill="#000"/>
<path d="M49.3 530.6 L61 530.14" stroke="#444" stroke-width="0.6" fill="none"/>
<path d="M64.5 530 L61.07 531.79 L60.94 528.49 Z" fill="#000"/>
<path d="M65.5 562.3 L51 562.3" stroke="#444" stroke-width="0.6" fill="none"/>
<path d="M47.5 562.3 L51 560.65 L51 563.95 Z" fill="#000"/>
<path d="M108.3 524.5 L108.3 510.5" stroke="#444" stroke-width="0.6" fill="none"/>
<path d="M108.3 507 L109.95 510.5 L106.65 510.5 Z" fill="#000"/>
<path d="M127.5 592.6 L139.5 592.14" stroke="#444" stroke-width="0.6" fill="none"/>
<path d="M143 592 L139.57 593.78 L139.44 590.49 Z" fill="#000"/>
<path d="M210.8 555.8 L210.8 573" stroke="#444" stroke-width="0.6" fill="none"/>
<path d="M210.8 576.5 L209.15 573 L212.45 573 Z" fill="#000"/>
<path d="M189.3 581 L204.5 580.51" stroke="#444" stroke-width="0.6" fill="none"/>
<path d="M208 580.4 L204.55 582.16 L204.45 578.86 Z" fill="#000"/>
<path d="M359.5 428.8 L371.8 428.33" stroke="#444" stroke-width="0.6" fill="none"/>
<path d="M375.3 428.2 L371.87 429.98 L371.74 426.68 Z" fill="#000"/>
<path d="M392 430.8 L392 436.1" stroke="#444" stroke-width="0.6" fill="none"/>
<path d="M392 439.6 L390.35 436.1 L393.65 436.1 Z" fill="#000"/>
<path d="M378 458 L363.8 458" stroke="#444" stroke-width="0.6" fill="none"/>
<path d="M360.3 458 L363.8 456.35 L363.8 459.65 Z" fill="#000"/>
<path d="M266.5 480 L266.5 466.8" stroke="#444" stroke-width="0.6" fill="none"/>
<path d="M266.5 463.3 L268.15 466.8 L264.85 466.8 Z" fill="#000"/>
<path d="M265.3 481.5 L250.8 481.5" stroke="#444" stroke-width="0.6" fill="none"/>
<path d="M247.3 481.5 L250.8 479.85 L250.8 483.15 Z" fill="#000"/>
<path d="M307 490.6 L292.5 490.6" stroke="#444" stroke-width="0.6" fill="none"/>
<path d="M289 490.6 L292.5 488.95 L292.5 492.25 Z" fill="#000"/>
<path d="M224 590.3 L236.5 589.91" stroke="#444" stroke-width="0.6" fill="none"/>
<path d="M240 589.8 L236.55 591.56 L236.45 588.26 Z" fill="#000"/>
<path d="M108.8 463.4 L108.8 476.9" stroke="#ff2020" stroke-width="1.5" fill="none"/>
<path d="M108.8 480.3 L106.9 476.9 L110.7 476.9 Z" fill="#ff2020"/>
<path d="M108.8 460 L106.9 463.4 L110.7 463.4 Z" fill="#ff2020"/>
<path d="M118.4 399.8 L141.1 399.8" stroke="#ff2020" stroke-width="1.5" fill="none"/>
<path d="M144.5 399.8 L141.1 401.7 L141.1 397.9 Z" fill="#ff2020"/>
<path d="M115 399.8 L118.4 401.7 L118.4 397.9 Z" fill="#ff2020"/>
<text x="62" y="381.5" class="lab" font-size="9.9" textLength="122.3" lengthAdjust="spacingAndGlyphs" fill="#111">Cooling Dominant w/ HR Loss</text>
<text x="142.5" y="430.4" class="lab" font-size="9.9" textLength="24.5" lengthAdjust="spacingAndGlyphs" fill="#111">Liquid</text>
<text x="147.5" y="488.4" class="lab" font-size="9.9" textLength="15" lengthAdjust="spacingAndGlyphs" fill="#111">Gas</text>
<text x="147.8" y="576.6" class="lab" font-size="9.9" textLength="15" lengthAdjust="spacingAndGlyphs" fill="#111">Gas</text>
<text x="94.3" y="613.8" class="it" font-size="11.2" textLength="33.8" lengthAdjust="spacingAndGlyphs" fill="#000">IU Side</text>
<text x="132.9" y="614.4" class="ar" font-size="11" textLength="9.8" lengthAdjust="spacingAndGlyphs" fill="#000">←</text>
<path d="M151.8 607.2 v8.6 M154.4 607.2 v8.6" stroke="#555" stroke-width="0.55" fill="none"/>
<text x="169.3" y="614.4" class="ar" font-size="11" textLength="9.8" lengthAdjust="spacingAndGlyphs" fill="#000">→</text>
<text x="181.8" y="613.8" class="it" font-size="11.2" textLength="37.6" lengthAdjust="spacingAndGlyphs" fill="#000">OU Side</text>
<path d="M573.8 395.2 H836.5 V618.2 H573.8" fill="none" stroke="#868686" stroke-width="1" stroke-dasharray="3 2.5"/>
<path d="M573.5 395.2 V621.2" fill="none" stroke="#6e6e6e" stroke-width="0.65" stroke-dasharray="5 2.2"/>
<path d="M499.5 464 L553.6 464 L553.6 515" fill="none" stroke="#ff7a7a" stroke-width="0.85" stroke-linejoin="miter" stroke-linecap="butt" stroke-dasharray="1.3 1.4"/>
<path d="M497 514.5 L497 501.5 L543 501.5" fill="none" stroke="#8cc2ef" stroke-width="0.85" stroke-linejoin="miter" stroke-linecap="butt" stroke-dasharray="1.3 1.4"/>
<path d="M497 563.5 L497 552.8 L540 552.8" fill="none" stroke="#8cc2ef" stroke-width="0.85" stroke-linejoin="miter" stroke-linecap="butt" stroke-dasharray="1.3 1.4"/>
<path d="M604.3 586 L604.3 509.5 L625.5 509.5" fill="none" stroke="#8cc2ef" stroke-width="0.85" stroke-linejoin="miter" stroke-linecap="butt" stroke-dasharray="1.3 1.4"/>
<path d="M637 451 L637 428.5 L681.5 428.5 L681.5 440 L664.3 440" fill="none" stroke="#8cc2ef" stroke-width="0.85" stroke-linejoin="miter" stroke-linecap="butt" stroke-dasharray="1.3 1.4"/>
<path d="M692.3 462.5 L652 462.5 L652 471.5" fill="none" stroke="#ff7a7a" stroke-width="0.85" stroke-linejoin="miter" stroke-linecap="butt" stroke-dasharray="1.3 1.4"/>
<path d="M465 433.5 L534.8 433.5" fill="none" stroke="#2fa060" stroke-width="1.3" stroke-linejoin="miter" stroke-linecap="butt"/>
<path d="M462.6 433.8 l3.4 -1.7 v3.4 Z" fill="#2fa060"/>
<path d="M455.7 433.5 L448.5 433.5 L448.5 438.3" fill="none" stroke="#7a40b0" stroke-width="1.2" stroke-linejoin="miter" stroke-linecap="butt"/>
<path d="M448.5 491.5 L448.5 487.5 L534.8 487.5" fill="none" stroke="#2fa060" stroke-width="1.3" stroke-linejoin="miter" stroke-linecap="butt"/>
<path d="M448.5 540.3 L448.5 536.5 L534.8 536.5" fill="none" stroke="#2fa060" stroke-width="1.3" stroke-linejoin="miter" stroke-linecap="butt"/>
<path d="M534.5 536.5 L534.5 408.5 L565.3 408.5" fill="none" stroke="#2fa060" stroke-width="1.3" stroke-linejoin="miter" stroke-linecap="butt"/>
<path d="M584.7 407.6 L806.5 407.6 L806.5 448.5 L796 448.5" fill="none" stroke="#d3efe1" stroke-width="1.8" stroke-linejoin="miter" stroke-linecap="butt"/>
<path d="M769.8 419.8 L806.5 419.8" fill="none" stroke="#d3efe1" stroke-width="1.8" stroke-linejoin="miter" stroke-linecap="butt"/>
<path d="M448.5 454.3 L448.5 464.5 L497.5 464.5 L497.5 450.5 L543.3 450.5" fill="none" stroke="#18b2f0" stroke-width="1.4" stroke-linejoin="miter" stroke-linecap="butt"/>
<path d="M543.5 449.4 L543.5 586.5 L566.3 586.5" fill="none" stroke="#18b2f0" stroke-width="1.4" stroke-linejoin="miter" stroke-linecap="butt"/>
<path d="M585 586.5 L810.5 586.5 L810.5 558" fill="none" stroke="#2583d4" stroke-width="1.8" stroke-linejoin="miter" stroke-linecap="butt"/>
<path d="M637.5 586.4 L637.5 451.5 L739.3 451.5" fill="none" stroke="#2583d4" stroke-width="1.8" stroke-linejoin="miter" stroke-linecap="butt"/>
<path d="M448.5 507.8 L448.5 517.5 L553.8 517.5" fill="none" stroke="#ff9ade" stroke-width="1.3" stroke-linejoin="miter" stroke-linecap="butt"/>
<path d="M448.5 556.5 L448.5 566.5 L553.5 566.5 L553.5 517.5 L561.5 517.5 L561.5 498.5 L565.3 498.5" fill="none" stroke="#ff9ade" stroke-width="1.3" stroke-linejoin="miter" stroke-linecap="butt"/>
<path d="M584.7 498.5 L617.5 498.5 L617.5 486.5 L810.5 486.5 L810.5 535" fill="none" stroke="#ff2020" stroke-width="1.4" stroke-linejoin="miter" stroke-linecap="butt"/>
<path d="M738.8 419.5 L695.5 419.5 L695.5 485.8" fill="none" stroke="#ff2020" stroke-width="1.4" stroke-linejoin="miter" stroke-linecap="butt"/>
<path d="M770.5 448.5 L790 448.5" fill="none" stroke="#3a3a80" stroke-width="1.6" stroke-linejoin="miter" stroke-linecap="butt"/>
<rect x="440" y="427.5" width="26.3" height="42.1" fill="none" stroke="#747474" stroke-width="0.8"/>
<rect x="491.5" y="427.5" width="20" height="42.1" fill="none" stroke="#747474" stroke-width="0.8"/>
<rect x="440" y="481.3" width="26.3" height="42" fill="none" stroke="#747474" stroke-width="0.8"/>
<rect x="491.5" y="481.3" width="20" height="42" fill="none" stroke="#747474" stroke-width="0.8"/>
<rect x="440" y="530.3" width="26.3" height="41.7" fill="none" stroke="#747474" stroke-width="0.8"/>
<rect x="491.5" y="530.3" width="20" height="41.7" fill="none" stroke="#747474" stroke-width="0.8"/>
<rect x="565.3" y="404.2" width="19.5" height="7.6" fill="#ccccff" stroke="#808080" stroke-width="0.7"/>
<rect x="565.3" y="494.5" width="19.5" height="7.5" fill="#ccccff" stroke="#808080" stroke-width="0.7"/>
<rect x="566.3" y="582.5" width="18.7" height="7.7" fill="#ccccff" stroke="#808080" stroke-width="0.7"/>
<ellipse cx="610.8" cy="503.5" rx="9.8" ry="8.4" fill="none" stroke="#6a6a6a" stroke-width="1.15"/>
<ellipse cx="688.3" cy="434.3" rx="9.8" ry="8.4" fill="none" stroke="#6a6a6a" stroke-width="1.15"/>
<ellipse cx="658.8" cy="456.8" rx="9.8" ry="8.4" fill="none" stroke="#6a6a6a" stroke-width="1.15"/>
<circle cx="496.3" cy="464" r="3.2" fill="#ccccff" stroke="#6a6a6a" stroke-width="0.7"/>
<circle cx="496.3" cy="517.5" r="3.2" fill="#ccccff" stroke="#6a6a6a" stroke-width="0.7"/>
<circle cx="496.3" cy="566.5" r="3.2" fill="#ccccff" stroke="#6a6a6a" stroke-width="0.7"/>
<circle cx="628.8" cy="509.5" r="3.2" fill="#ccccff" stroke="#6a6a6a" stroke-width="0.7"/>
<circle cx="661" cy="440" r="3.2" fill="#ccccff" stroke="#6a6a6a" stroke-width="0.7"/>
<circle cx="637" cy="451.2" r="3.2" fill="#ccccff" stroke="#6a6a6a" stroke-width="0.7"/>
<circle cx="652" cy="474.6" r="3.2" fill="#ccccff" stroke="#6a6a6a" stroke-width="0.7"/>
<circle cx="695.5" cy="462.5" r="3.2" fill="#ccccff" stroke="#6a6a6a" stroke-width="0.7"/>
<circle cx="695.5" cy="485.8" r="3.2" fill="#ccccff" stroke="#6a6a6a" stroke-width="0.7"/>
<circle cx="603.8" cy="586.4" r="3.2" fill="#ccccff" stroke="#6a6a6a" stroke-width="0.7"/>
<circle cx="637" cy="586.4" r="3.2" fill="#ccccff" stroke="#6a6a6a" stroke-width="0.7"/>
<circle cx="534.2" cy="434" r="3.5" fill="#00a050"/>
<circle cx="553.8" cy="517.5" r="3.3" fill="#ff0000"/>
<circle cx="543.3" cy="552.8" r="3.5" fill="#0b66c2"/>
<rect x="738.8" y="411.5" width="31" height="16.3" fill="#ff0000" stroke="#6a1010" stroke-width="0.7"/>
<path d="M738.8 427.8 L769.8 411.5" stroke="#3a0000" stroke-width="0.8" fill="none"/>
<rect x="739.3" y="441" width="31.2" height="22" fill="#00b0f0" stroke="#1f4e79" stroke-width="0.7"/>
<path d="M739.3 463 L770.5 441" stroke="#10253f" stroke-width="0.8" fill="none"/>
<rect x="443.3" y="438.3" width="9.7" height="16" fill="#00b0f0" stroke="#1f4e79" stroke-width="0.7"/>
<path d="M443.3 454.3 L453 438.3" stroke="#10253f" stroke-width="0.8" fill="none"/>
<rect x="443.3" y="491.5" width="9.7" height="16.3" fill="#ff0000" stroke="#6a1010" stroke-width="0.7"/>
<path d="M443.3 507.8 L453 491.5" stroke="#3a0000" stroke-width="0.8" fill="none"/>
<rect x="443.3" y="540.3" width="9.7" height="16.2" fill="#ff0000" stroke="#6a1010" stroke-width="0.7"/>
<path d="M443.3 556.5 L453 540.3" stroke="#3a0000" stroke-width="0.8" fill="none"/>
<circle cx="793" cy="419.8" r="3.1" fill="#ccccff" stroke="#666" stroke-width="0.6"/>
<path d="M791.08 417.88 L794.92 421.72 M791.08 421.72 L794.92 417.88" stroke="#444" stroke-width="0.7" fill="none"/>
<circle cx="793" cy="448.5" r="3.1" fill="#ccccff" stroke="#666" stroke-width="0.6"/>
<path d="M791.08 446.58 L794.92 450.42 M791.08 450.42 L794.92 446.58" stroke="#444" stroke-width="0.7" fill="none"/>
<circle cx="458.8" cy="433.8" r="3.1" fill="#ccccff" stroke="#666" stroke-width="0.6"/>
<path d="M456.88 431.88 L460.72 435.72 M456.88 435.72 L460.72 431.88" stroke="#444" stroke-width="0.7" fill="none"/>
<circle cx="458.8" cy="487.8" r="3.1" fill="#ccccff" stroke="#666" stroke-width="0.6"/>
<path d="M456.88 485.88 L460.72 489.72 M456.88 489.72 L460.72 485.88" stroke="#444" stroke-width="0.7" fill="none"/>
<circle cx="458.8" cy="536.5" r="3.1" fill="#ccccff" stroke="#666" stroke-width="0.6"/>
<path d="M456.88 534.58 L460.72 538.42 M456.88 538.42 L460.72 534.58" stroke="#444" stroke-width="0.7" fill="none"/>
<rect x="801" y="539.3" width="19.6" height="10" fill="#ffc000"/>
<rect x="806.3" y="534.3" width="9" height="5.5" fill="#ffc000" stroke="#8a6a10" stroke-width="0.6"/>
<ellipse cx="810.8" cy="548.9" rx="9.4" ry="11.4" fill="#ffc000" stroke="#8a6a10" stroke-width="0.6"/>
<path d="M511.8 423.5 L498.5 423.5" stroke="#444" stroke-width="0.6" fill="none"/>
<path d="M495 423.5 L498.5 421.85 L498.5 425.15 Z" fill="#000"/>
<path d="M528.8 472.8 L528.8 458.8" stroke="#444" stroke-width="0.6" fill="none"/>
<path d="M528.8 455.3 L530.45 458.8 L527.15 458.8 Z" fill="#000"/>
<path d="M546.8 592.6 L557 592.15" stroke="#444" stroke-width="0.6" fill="none"/>
<path d="M560.5 592 L557.08 593.8 L556.93 590.5 Z" fill="#000"/>
<path d="M631.8 556.3 L631.8 573" stroke="#444" stroke-width="0.6" fill="none"/>
<path d="M631.8 576.5 L630.15 573 L633.45 573 Z" fill="#000"/>
<path d="M610 581.3 L625 580.81" stroke="#444" stroke-width="0.6" fill="none"/>
<path d="M628.5 580.7 L625.06 582.46 L624.95 579.16 Z" fill="#000"/>
<path d="M781 428.3 L793.5 427.83" stroke="#444" stroke-width="0.6" fill="none"/>
<path d="M797 427.7 L793.56 429.48 L793.44 426.18 Z" fill="#000"/>
<path d="M814 430 L814 436" stroke="#444" stroke-width="0.6" fill="none"/>
<path d="M814 439.5 L812.35 436 L815.65 436 Z" fill="#000"/>
<path d="M799.5 457.8 L785.5 457.8" stroke="#444" stroke-width="0.6" fill="none"/>
<path d="M782 457.8 L785.5 456.15 L785.5 459.45 Z" fill="#000"/>
<path d="M688 480 L688 466.5" stroke="#444" stroke-width="0.6" fill="none"/>
<path d="M688 463 L689.65 466.5 L686.35 466.5 Z" fill="#000"/>
<path d="M686.5 481.3 L671.8 481.3" stroke="#444" stroke-width="0.6" fill="none"/>
<path d="M668.3 481.3 L671.8 479.65 L671.8 482.95 Z" fill="#000"/>
<path d="M734.5 491.3 L720.5 491.3" stroke="#444" stroke-width="0.6" fill="none"/>
<path d="M717 491.3 L720.5 489.65 L720.5 492.95 Z" fill="#000"/>
<path d="M645 592.3 L660.3 592.3" stroke="#444" stroke-width="0.6" fill="none"/>
<path d="M663.8 592.3 L660.3 593.95 L660.3 590.65 Z" fill="#000"/>
<path d="M538.9 399.3 L561.9 399.3" stroke="#ff2020" stroke-width="1.5" fill="none"/>
<path d="M565.3 399.3 L561.9 401.2 L561.9 397.4 Z" fill="#ff2020"/>
<path d="M535.5 399.3 L538.9 401.2 L538.9 397.4 Z" fill="#ff2020"/>
<text x="486" y="380" class="lab" font-size="9.9" textLength="123.5" lengthAdjust="spacingAndGlyphs" fill="#111">Heating Dominant w/ HR Loss</text>
<text x="563.3" y="430.2" class="lab" font-size="9.9" textLength="24.7" lengthAdjust="spacingAndGlyphs" fill="#111">Liquid</text>
<text x="568" y="488.4" class="lab" font-size="9.9" textLength="15" lengthAdjust="spacingAndGlyphs" fill="#111">Gas</text>
<text x="568.3" y="577.2" class="lab" font-size="9.9" textLength="15" lengthAdjust="spacingAndGlyphs" fill="#111">Gas</text>
<text x="517.2" y="616.6" class="it" font-size="11.2" textLength="33.8" lengthAdjust="spacingAndGlyphs" fill="#000">IU Side</text>
<text x="555.8" y="617.2" class="ar" font-size="11" textLength="9.8" lengthAdjust="spacingAndGlyphs" fill="#000">←</text>
<path d="M574.7 610 v8.6 M577.3 610 v8.6" stroke="#555" stroke-width="0.55" fill="none"/>
<text x="592.2" y="617.2" class="ar" font-size="11" textLength="9.8" lengthAdjust="spacingAndGlyphs" fill="#000">→</text>
<text x="604.7" y="616.6" class="it" font-size="11.2" textLength="37.6" lengthAdjust="spacingAndGlyphs" fill="#000">OU Side</text>
<path d="M152.3 693.7 H412 V913.5 H152.3" fill="none" stroke="#868686" stroke-width="1" stroke-dasharray="3 2.5"/>
<path d="M152.5 693.7 V916.5" fill="none" stroke="#6e6e6e" stroke-width="0.65" stroke-dasharray="5 2.2"/>
<path d="M79.5 761.8 L132.8 761.8 L132.8 812" fill="none" stroke="#8cc2ef" stroke-width="0.85" stroke-linejoin="miter" stroke-linecap="butt" stroke-dasharray="1.3 1.4"/>
<path d="M77 811.5 L77 798.5 L122.3 798.5" fill="none" stroke="#8cc2ef" stroke-width="0.85" stroke-linejoin="miter" stroke-linecap="butt" stroke-dasharray="1.3 1.4"/>
<path d="M77 860 L77 849.5 L119.5 849.5" fill="none" stroke="#8cc2ef" stroke-width="0.85" stroke-linejoin="miter" stroke-linecap="butt" stroke-dasharray="1.3 1.4"/>
<path d="M182.5 882 L182.5 807 L203.3 807" fill="none" stroke="#8cc2ef" stroke-width="0.85" stroke-linejoin="miter" stroke-linecap="butt" stroke-dasharray="1.3 1.4"/>
<path d="M241.5 738.4 L271 738.4" fill="none" stroke="#8cc2ef" stroke-width="0.85" stroke-linejoin="miter" stroke-linecap="butt" stroke-dasharray="1.3 1.4"/>
<path d="M271.3 739.3 L271.3 780.3" fill="none" stroke="#ff7a7a" stroke-width="0.85" stroke-linejoin="miter" stroke-linecap="butt" stroke-dasharray="1.3 1.4"/>
<path d="M268 760.3 L229.5 760.3 L229.5 769.3" fill="none" stroke="#ff7a7a" stroke-width="0.85" stroke-linejoin="miter" stroke-linecap="butt" stroke-dasharray="1.3 1.4"/>
<path d="M42.5 732.5 L113.8 732.5" fill="none" stroke="#00b050" stroke-width="1.3" stroke-linejoin="miter" stroke-linecap="butt"/>
<path d="M36 732.5 L28.5 732.5 L28.5 736.3" fill="none" stroke="#3a3ab0" stroke-width="1.2" stroke-linejoin="miter" stroke-linecap="butt"/>
<path d="M28.5 788.8 L28.5 785.5 L113.8 785.5" fill="none" stroke="#00b050" stroke-width="1.3" stroke-linejoin="miter" stroke-linecap="butt"/>
<path d="M28.5 837 L28.5 833.5 L113.8 833.5" fill="none" stroke="#00b050" stroke-width="1.3" stroke-linejoin="miter" stroke-linecap="butt"/>
<path d="M113.5 833.3 L113.5 706.5 L144.3 706.5" fill="none" stroke="#00b050" stroke-width="1.3" stroke-linejoin="miter" stroke-linecap="butt"/>
<path d="M163.5 706.5 L382.5 706.5 L382.5 746.5 L371.5 746.5" fill="none" stroke="#00b050" stroke-width="1.3" stroke-linejoin="miter" stroke-linecap="butt"/>
<path d="M371.5 718.5 L382.3 718.5" fill="none" stroke="#00b050" stroke-width="1.3" stroke-linejoin="miter" stroke-linecap="butt"/>
<path d="M28.5 752 L28.5 761.5 L77.5 761.5 L77.5 748.5 L122.5 748.5" fill="none" stroke="#18b2f0" stroke-width="1.4" stroke-linejoin="miter" stroke-linecap="butt"/>
<path d="M122.5 747.4 L122.5 882.5 L145 882.5" fill="none" stroke="#18b2f0" stroke-width="1.4" stroke-linejoin="miter" stroke-linecap="butt"/>
<path d="M163.8 882.5 L386.5 882.5 L386.5 855" fill="none" stroke="#2583d4" stroke-width="1.4" stroke-linejoin="miter" stroke-linecap="butt"/>
<path d="M215.5 882.5 L215.5 726.5 L271.5 726.5 L271.5 719.5 L315.5 719.5" fill="none" stroke="#2583d4" stroke-width="1.7" stroke-linejoin="miter" stroke-linecap="butt"/>
<path d="M215.3 749.5 L315.5 749.5" fill="none" stroke="#2583d4" stroke-width="1.4" stroke-linejoin="miter" stroke-linecap="butt"/>
<path d="M28.5 804.5 L28.5 814.5 L132.8 814.5" fill="none" stroke="#ff9ade" stroke-width="1.3" stroke-linejoin="miter" stroke-linecap="butt"/>
<path d="M28.5 852.8 L28.5 863.5 L132.5 863.5 L132.5 814.5 L140.5 814.5 L140.5 795.5 L144.3 795.5" fill="none" stroke="#ff9ade" stroke-width="1.3" stroke-linejoin="miter" stroke-linecap="butt"/>
<path d="M163.5 795.5 L196.5 795.5 L196.5 783.5 L386.5 783.5 L386.5 832" fill="none" stroke="#ff2020" stroke-width="1.4" stroke-linejoin="miter" stroke-linecap="butt"/>
<path d="M346.3 718.5 L366 718.5" fill="none" stroke="#4040a8" stroke-width="1.5" stroke-linejoin="miter" stroke-linecap="butt"/>
<path d="M346.3 746.5 L366 746.5" fill="none" stroke="#4040a8" stroke-width="1.5" stroke-linejoin="miter" stroke-linecap="butt"/>
<rect x="20.5" y="726.3" width="25.8" height="41" fill="none" stroke="#747474" stroke-width="0.8"/>
<rect x="71.5" y="726.3" width="19.8" height="41" fill="none" stroke="#747474" stroke-width="0.8"/>
<rect x="20.5" y="779.3" width="25.8" height="41.2" fill="none" stroke="#747474" stroke-width="0.8"/>
<rect x="71.5" y="779.3" width="19.8" height="41.2" fill="none" stroke="#747474" stroke-width="0.8"/>
<rect x="20.5" y="827" width="25.8" height="41.6" fill="none" stroke="#747474" stroke-width="0.8"/>
<rect x="71.5" y="827" width="19.8" height="41.6" fill="none" stroke="#747474" stroke-width="0.8"/>
<rect x="144.3" y="702.7" width="19.2" height="7.8" fill="#ccccff" stroke="#808080" stroke-width="0.7"/>
<rect x="144.3" y="791.7" width="19.2" height="7.6" fill="#ccccff" stroke="#808080" stroke-width="0.7"/>
<rect x="145" y="878.7" width="18.8" height="7.5" fill="#ccccff" stroke="#808080" stroke-width="0.7"/>
<ellipse cx="189" cy="800.8" rx="9.8" ry="8.4" fill="none" stroke="#6a6a6a" stroke-width="1.15"/>
<ellipse cx="264.8" cy="732.5" rx="9.8" ry="8.4" fill="none" stroke="#6a6a6a" stroke-width="1.15"/>
<ellipse cx="236.5" cy="754.8" rx="9.8" ry="8.4" fill="none" stroke="#6a6a6a" stroke-width="1.15"/>
<circle cx="76.3" cy="761.8" r="3.2" fill="#ccccff" stroke="#6a6a6a" stroke-width="0.7"/>
<circle cx="76.3" cy="814.5" r="3.2" fill="#ccccff" stroke="#6a6a6a" stroke-width="0.7"/>
<circle cx="76.3" cy="863" r="3.2" fill="#ccccff" stroke="#6a6a6a" stroke-width="0.7"/>
<circle cx="206.5" cy="807" r="3.2" fill="#ccccff" stroke="#6a6a6a" stroke-width="0.7"/>
<circle cx="238.3" cy="738.3" r="3.2" fill="#ccccff" stroke="#6a6a6a" stroke-width="0.7"/>
<circle cx="214.8" cy="749.2" r="3.2" fill="#ccccff" stroke="#6a6a6a" stroke-width="0.7"/>
<circle cx="229.5" cy="772.3" r="3.2" fill="#ccccff" stroke="#6a6a6a" stroke-width="0.7"/>
<circle cx="271.3" cy="760.3" r="3.2" fill="#ccccff" stroke="#6a6a6a" stroke-width="0.7"/>
<circle cx="271.3" cy="783.3" r="3.2" fill="#ccccff" stroke="#6a6a6a" stroke-width="0.7"/>
<circle cx="182" cy="882.5" r="3.2" fill="#ccccff" stroke="#6a6a6a" stroke-width="0.7"/>
<circle cx="214.8" cy="882.5" r="3.2" fill="#ccccff" stroke="#6a6a6a" stroke-width="0.7"/>
<circle cx="113.3" cy="732" r="3.5" fill="#00a64f"/>
<circle cx="132.8" cy="814.5" r="3.3" fill="#ff0000"/>
<circle cx="122.5" cy="849.5" r="3.5" fill="#0b66c2"/>
<rect x="315.5" y="711.5" width="30.8" height="16" fill="#00b0f0" stroke="#1f4e79" stroke-width="0.7"/>
<path d="M315.5 727.5 L346.3 711.5" stroke="#10253f" stroke-width="0.8" fill="none"/>
<rect x="315.5" y="738" width="30.8" height="23.3" fill="#00b0f0" stroke="#1f4e79" stroke-width="0.7"/>
<path d="M315.5 761.3 L346.3 738" stroke="#10253f" stroke-width="0.8" fill="none"/>
<rect x="24" y="736.3" width="9.8" height="15.7" fill="#00b0f0" stroke="#1f4e79" stroke-width="0.7"/>
<path d="M24 752 L33.8 736.3" stroke="#10253f" stroke-width="0.8" fill="none"/>
<rect x="24" y="788.8" width="9.8" height="15.7" fill="#ff0000" stroke="#6a1010" stroke-width="0.7"/>
<path d="M24 804.5 L33.8 788.8" stroke="#3a0000" stroke-width="0.8" fill="none"/>
<rect x="24" y="837" width="9.8" height="15.8" fill="#ff0000" stroke="#6a1010" stroke-width="0.7"/>
<path d="M24 852.8 L33.8 837" stroke="#3a0000" stroke-width="0.8" fill="none"/>
<circle cx="368.8" cy="718.5" r="3.1" fill="#ccccff" stroke="#666" stroke-width="0.6"/>
<path d="M366.88 716.58 L370.72 720.42 M366.88 720.42 L370.72 716.58" stroke="#444" stroke-width="0.7" fill="none"/>
<circle cx="368.8" cy="746.8" r="3.1" fill="#ccccff" stroke="#666" stroke-width="0.6"/>
<path d="M366.88 744.88 L370.72 748.72 M366.88 748.72 L370.72 744.88" stroke="#444" stroke-width="0.7" fill="none"/>
<circle cx="39.3" cy="732" r="3.1" fill="#ccccff" stroke="#666" stroke-width="0.6"/>
<path d="M37.38 730.08 L41.22 733.92 M37.38 733.92 L41.22 730.08" stroke="#444" stroke-width="0.7" fill="none"/>
<circle cx="39.3" cy="785.3" r="3.1" fill="#ccccff" stroke="#666" stroke-width="0.6"/>
<path d="M37.38 783.38 L41.22 787.22 M37.38 787.22 L41.22 783.38" stroke="#444" stroke-width="0.7" fill="none"/>
<circle cx="39.3" cy="833.3" r="3.1" fill="#ccccff" stroke="#666" stroke-width="0.6"/>
<path d="M37.38 831.38 L41.22 835.22 M37.38 835.22 L41.22 831.38" stroke="#444" stroke-width="0.7" fill="none"/>
<rect x="376.2" y="836" width="19.6" height="10" fill="#ffc000"/>
<rect x="381.5" y="831" width="9" height="5.5" fill="#ffc000" stroke="#8a6a10" stroke-width="0.6"/>
<ellipse cx="386" cy="845.6" rx="9.4" ry="11.4" fill="#ffc000" stroke="#8a6a10" stroke-width="0.6"/>
<path d="M123.3 700.5 L135.5 700.11" stroke="#444" stroke-width="0.6" fill="none"/>
<path d="M139 700 L135.55 701.76 L135.45 698.46 Z" fill="#000"/>
<path d="M91.8 721.8 L78.5 722.2" stroke="#444" stroke-width="0.6" fill="none"/>
<path d="M75 722.3 L78.45 720.55 L78.55 723.85 Z" fill="#000"/>
<path d="M108.3 772.5 L108.3 757.8" stroke="#444" stroke-width="0.6" fill="none"/>
<path d="M108.3 754.3 L109.95 757.8 L106.65 757.8 Z" fill="#000"/>
<path d="M185.5 788.6 L172.8 789.15" stroke="#444" stroke-width="0.6" fill="none"/>
<path d="M169.3 789.3 L172.73 787.5 L172.87 790.8 Z" fill="#000"/>
<path d="M209.5 847.5 L209.5 867" stroke="#444" stroke-width="0.6" fill="none"/>
<path d="M209.5 870.5 L207.85 867 L211.15 867 Z" fill="#000"/>
<path d="M190.5 877 L202.8 876.61" stroke="#444" stroke-width="0.6" fill="none"/>
<path d="M206.3 876.5 L202.85 878.26 L202.75 874.96 Z" fill="#000"/>
<path d="M225.3 700.2 L237.5 699.89" stroke="#444" stroke-width="0.6" fill="none"/>
<path d="M241 699.8 L237.54 701.54 L237.46 698.24 Z" fill="#000"/>
<path d="M374.5 725.5 L360.5 725.5" stroke="#444" stroke-width="0.6" fill="none"/>
<path d="M357 725.5 L360.5 723.85 L360.5 727.15 Z" fill="#000"/>
<path d="M375.8 755.5 L361.8 755.5" stroke="#444" stroke-width="0.6" fill="none"/>
<path d="M358.3 755.5 L361.8 753.85 L361.8 757.15 Z" fill="#000"/>
<path d="M310.3 788.8 L297 789.43" stroke="#444" stroke-width="0.6" fill="none"/>
<path d="M293.5 789.6 L296.92 787.79 L297.07 791.08 Z" fill="#000"/>
<path d="M222.8 877 L235.3 876.61" stroke="#444" stroke-width="0.6" fill="none"/>
<path d="M238.8 876.5 L235.35 878.26 L235.25 874.96 Z" fill="#000"/>
<text x="62.5" y="680" class="lab" font-size="9.9" textLength="127.5" lengthAdjust="spacingAndGlyphs" fill="#111">Heating Dominant w/o HR Loss</text>
<text x="142" y="728.2" class="lab" font-size="9.9" textLength="24.5" lengthAdjust="spacingAndGlyphs" fill="#111">Liquid</text>
<text x="147" y="785.4" class="lab" font-size="9.9" textLength="15" lengthAdjust="spacingAndGlyphs" fill="#111">Gas</text>
<text x="147.3" y="873.2" class="lab" font-size="9.9" textLength="15" lengthAdjust="spacingAndGlyphs" fill="#111">Gas</text>
<text x="94.3" y="912.5" class="it" font-size="11.2" textLength="33.8" lengthAdjust="spacingAndGlyphs" fill="#000">IU Side</text>
<text x="132.9" y="913.1" class="ar" font-size="11" textLength="9.8" lengthAdjust="spacingAndGlyphs" fill="#000">←</text>
<path d="M151.8 905.9 v8.6 M154.4 905.9 v8.6" stroke="#555" stroke-width="0.55" fill="none"/>
<text x="169.3" y="913.1" class="ar" font-size="11" textLength="9.8" lengthAdjust="spacingAndGlyphs" fill="#000">→</text>
<text x="181.8" y="912.5" class="it" font-size="11.2" textLength="37.6" lengthAdjust="spacingAndGlyphs" fill="#000">OU Side</text>
<path d="M575.5 695.3 H842.8 V921.8 H575.5" fill="none" stroke="#868686" stroke-width="1" stroke-dasharray="3 2.5"/>
<path d="M575.5 695.3 V924.8" fill="none" stroke="#6e6e6e" stroke-width="0.65" stroke-dasharray="5 2.2"/>
<path d="M497.5 762.5 L497.5 751.3 L545.5 751.3 L545.5 888.8 L567 888.8" fill="none" stroke="#8cc2ef" stroke-width="0.85" stroke-linejoin="miter" stroke-linecap="butt" stroke-dasharray="1.3 1.4"/>
<path d="M497.5 816.5 L497.5 803 L545.5 803" fill="none" stroke="#8cc2ef" stroke-width="0.85" stroke-linejoin="miter" stroke-linecap="butt" stroke-dasharray="1.3 1.4"/>
<path d="M497.5 866.5 L497.5 855.5 L542 855.5" fill="none" stroke="#8cc2ef" stroke-width="0.85" stroke-linejoin="miter" stroke-linecap="butt" stroke-dasharray="1.3 1.4"/>
<path d="M587.5 888.8 L606 888.8" fill="none" stroke="#8cc2ef" stroke-width="0.85" stroke-linejoin="miter" stroke-linecap="butt" stroke-dasharray="1.3 1.4"/>
<path d="M606.3 889 L606.3 811.5 L628.5 811.5" fill="none" stroke="#8cc2ef" stroke-width="0.85" stroke-linejoin="miter" stroke-linecap="butt" stroke-dasharray="1.3 1.4"/>
<path d="M668 741 L698.8 741 L698.8 784.5" fill="none" stroke="#ff7a7a" stroke-width="0.85" stroke-linejoin="miter" stroke-linecap="butt" stroke-dasharray="1.3 1.4"/>
<path d="M695.5 764.3 L655.3 764.3 L655.3 773" fill="none" stroke="#ff7a7a" stroke-width="0.85" stroke-linejoin="miter" stroke-linecap="butt" stroke-dasharray="1.3 1.4"/>
<path d="M448.5 739 L448.5 735.5 L535.5 735.5" fill="none" stroke="#00b050" stroke-width="1.3" stroke-linejoin="miter" stroke-linecap="butt"/>
<path d="M448.5 793.3 L448.5 789.5 L535.5 789.5" fill="none" stroke="#00b050" stroke-width="1.3" stroke-linejoin="miter" stroke-linecap="butt"/>
<path d="M448.5 842.5 L448.5 838.5 L535.5 838.5" fill="none" stroke="#00b050" stroke-width="1.3" stroke-linejoin="miter" stroke-linecap="butt"/>
<path d="M535.5 838.5 L535.5 708.5 L567.3 708.5" fill="none" stroke="#00b050" stroke-width="1.3" stroke-linejoin="miter" stroke-linecap="butt"/>
<path d="M586.7 708.5 L812.5 708.5 L812.5 749.5 L801.5 749.5" fill="none" stroke="#00b050" stroke-width="1.3" stroke-linejoin="miter" stroke-linecap="butt"/>
<path d="M801.5 720.5 L812.5 720.5" fill="none" stroke="#00b050" stroke-width="1.3" stroke-linejoin="miter" stroke-linecap="butt"/>
<path d="M606 889.5 L816.5 889.5 L816.5 861" fill="none" stroke="#2583d4" stroke-width="1.4" stroke-linejoin="miter" stroke-linecap="butt"/>
<path d="M640.5 889.5 L640.5 729.5 L698.5 729.5 L698.5 720.5 L743.3 720.5" fill="none" stroke="#2583d4" stroke-width="1.7" stroke-linejoin="miter" stroke-linecap="butt"/>
<path d="M640.5 752.5 L744.3 752.5" fill="none" stroke="#2583d4" stroke-width="1.4" stroke-linejoin="miter" stroke-linecap="butt"/>
<path d="M448.5 755.5 L448.5 765.5 L555.5 765.5 L555.5 869.5 L448.5 869.5 L448.5 859" fill="none" stroke="#ff9ade" stroke-width="1.3" stroke-linejoin="miter" stroke-linecap="butt"/>
<path d="M448.5 809.8 L448.5 819.5 L555.8 819.5" fill="none" stroke="#ff9ade" stroke-width="1.3" stroke-linejoin="miter" stroke-linecap="butt"/>
<path d="M555.8 819.5 L563.5 819.5 L563.5 800.5 L567.3 800.5" fill="none" stroke="#ff9ade" stroke-width="1.3" stroke-linejoin="miter" stroke-linecap="butt"/>
<path d="M586.7 800.5 L620.5 800.5 L620.5 787.5 L816.5 787.5 L816.5 837.5" fill="none" stroke="#ff2020" stroke-width="1.4" stroke-linejoin="miter" stroke-linecap="butt"/>
<path d="M774.8 720.5 L795.5 720.5" fill="none" stroke="#4040a8" stroke-width="1.5" stroke-linejoin="miter" stroke-linecap="butt"/>
<path d="M775.5 749.5 L795.5 749.5" fill="none" stroke="#4040a8" stroke-width="1.5" stroke-linejoin="miter" stroke-linecap="butt"/>
<rect x="440.6" y="728.5" width="25.9" height="42.3" fill="none" stroke="#747474" stroke-width="0.8"/>
<rect x="492.5" y="728.5" width="20.3" height="42.3" fill="none" stroke="#747474" stroke-width="0.8"/>
<rect x="440.6" y="783" width="25.9" height="42.5" fill="none" stroke="#747474" stroke-width="0.8"/>
<rect x="492.5" y="783" width="20.3" height="42.5" fill="none" stroke="#747474" stroke-width="0.8"/>
<rect x="440.6" y="832.5" width="25.9" height="42.5" fill="none" stroke="#747474" stroke-width="0.8"/>
<rect x="492.5" y="832.5" width="20.3" height="42.5" fill="none" stroke="#747474" stroke-width="0.8"/>
<rect x="567.3" y="704.5" width="19.5" height="8" fill="#ccccff" stroke="#808080" stroke-width="0.7"/>
<rect x="567.3" y="796.3" width="19.5" height="7.5" fill="#ccccff" stroke="#808080" stroke-width="0.7"/>
<rect x="567.3" y="885.5" width="20.2" height="7.7" fill="#ccccff" stroke="#808080" stroke-width="0.7"/>
<ellipse cx="613.3" cy="805.8" rx="9.8" ry="8.4" fill="none" stroke="#6a6a6a" stroke-width="1.15"/>
<ellipse cx="691.5" cy="735" rx="9.8" ry="8.4" fill="none" stroke="#6a6a6a" stroke-width="1.15"/>
<ellipse cx="662.5" cy="757.8" rx="9.8" ry="8.4" fill="none" stroke="#6a6a6a" stroke-width="1.15"/>
<circle cx="497.5" cy="765.5" r="3.2" fill="#ccccff" stroke="#6a6a6a" stroke-width="0.7"/>
<circle cx="497.5" cy="819.5" r="3.2" fill="#ccccff" stroke="#6a6a6a" stroke-width="0.7"/>
<circle cx="497.5" cy="869.5" r="3.2" fill="#ccccff" stroke="#6a6a6a" stroke-width="0.7"/>
<circle cx="632" cy="811.5" r="3.2" fill="#ccccff" stroke="#6a6a6a" stroke-width="0.7"/>
<circle cx="664.5" cy="741" r="3.2" fill="#ccccff" stroke="#6a6a6a" stroke-width="0.7"/>
<circle cx="640.5" cy="752" r="3.2" fill="#ccccff" stroke="#6a6a6a" stroke-width="0.7"/>
<circle cx="655.3" cy="776" r="3.2" fill="#ccccff" stroke="#6a6a6a" stroke-width="0.7"/>
<circle cx="698.8" cy="764.8" r="3.2" fill="#ccccff" stroke="#6a6a6a" stroke-width="0.7"/>
<circle cx="698.8" cy="787.8" r="3.2" fill="#ccccff" stroke="#6a6a6a" stroke-width="0.7"/>
<circle cx="606.3" cy="889.3" r="3.2" fill="#ccccff" stroke="#6a6a6a" stroke-width="0.7"/>
<circle cx="640.5" cy="889.3" r="3.2" fill="#ccccff" stroke="#6a6a6a" stroke-width="0.7"/>
<circle cx="535.5" cy="735" r="3.5" fill="#00a64f"/>
<circle cx="555.6" cy="819.5" r="3.3" fill="#ff0000"/>
<circle cx="545.3" cy="855.5" r="3.5" fill="#0b66c2"/>
<rect x="743.3" y="712.3" width="31.5" height="16.5" fill="#00b0f0" stroke="#1f4e79" stroke-width="0.7"/>
<path d="M743.3 728.8 L774.8 712.3" stroke="#10253f" stroke-width="0.8" fill="none"/>
<rect x="744.3" y="740" width="31.2" height="22.8" fill="#00b0f0" stroke="#1f4e79" stroke-width="0.7"/>
<path d="M744.3 762.8 L775.5 740" stroke="#10253f" stroke-width="0.8" fill="none"/>
<rect x="443.5" y="739" width="9.8" height="16.5" fill="#ff0000" stroke="#6a1010" stroke-width="0.7"/>
<path d="M443.5 755.5 L453.3 739" stroke="#3a0000" stroke-width="0.8" fill="none"/>
<rect x="443.5" y="793.3" width="9.8" height="16.5" fill="#ff0000" stroke="#6a1010" stroke-width="0.7"/>
<path d="M443.5 809.8 L453.3 793.3" stroke="#3a0000" stroke-width="0.8" fill="none"/>
<rect x="443.5" y="842.5" width="9.8" height="16.5" fill="#ff0000" stroke="#6a1010" stroke-width="0.7"/>
<path d="M443.5 859 L453.3 842.5" stroke="#3a0000" stroke-width="0.8" fill="none"/>
<circle cx="798.5" cy="720.3" r="3.1" fill="#ccccff" stroke="#666" stroke-width="0.6"/>
<path d="M796.58 718.38 L800.42 722.22 M796.58 722.22 L800.42 718.38" stroke="#444" stroke-width="0.7" fill="none"/>
<circle cx="798.5" cy="749.5" r="3.1" fill="#ccccff" stroke="#666" stroke-width="0.6"/>
<path d="M796.58 747.58 L800.42 751.42 M796.58 751.42 L800.42 747.58" stroke="#444" stroke-width="0.7" fill="none"/>
<circle cx="459.3" cy="735" r="3.1" fill="#ccccff" stroke="#666" stroke-width="0.6"/>
<path d="M457.38 733.08 L461.22 736.92 M457.38 736.92 L461.22 733.08" stroke="#444" stroke-width="0.7" fill="none"/>
<circle cx="459.3" cy="789.3" r="3.1" fill="#ccccff" stroke="#666" stroke-width="0.6"/>
<path d="M457.38 787.38 L461.22 791.22 M457.38 791.22 L461.22 787.38" stroke="#444" stroke-width="0.7" fill="none"/>
<circle cx="459.3" cy="838.5" r="3.1" fill="#ccccff" stroke="#666" stroke-width="0.6"/>
<path d="M457.38 836.58 L461.22 840.42 M457.38 840.42 L461.22 836.58" stroke="#444" stroke-width="0.7" fill="none"/>
<rect x="806.5" y="841.8" width="19.6" height="10" fill="#ffc000"/>
<rect x="811.8" y="836.8" width="9" height="5.5" fill="#ffc000" stroke="#8a6a10" stroke-width="0.6"/>
<ellipse cx="816.3" cy="851.4" rx="9.4" ry="11.4" fill="#ffc000" stroke="#8a6a10" stroke-width="0.6"/>
<path d="M541 701.5 L553.8 701.11" stroke="#444" stroke-width="0.6" fill="none"/>
<path d="M557.3 701 L553.85 702.76 L553.75 699.46 Z" fill="#000"/>
<path d="M612.5 789.5 L594.5 789.5" stroke="#444" stroke-width="0.6" fill="none"/>
<path d="M591 789.5 L594.5 787.85 L594.5 791.15 Z" fill="#000"/>
<path d="M669.5 702 L682.3 701.61" stroke="#444" stroke-width="0.6" fill="none"/>
<path d="M685.8 701.5 L682.35 703.26 L682.25 699.96 Z" fill="#000"/>
<path d="M804.5 728 L790 728" stroke="#444" stroke-width="0.6" fill="none"/>
<path d="M786.5 728 L790 726.35 L790 729.65 Z" fill="#000"/>
<path d="M805.8 759 L791.3 759" stroke="#444" stroke-width="0.6" fill="none"/>
<path d="M787.8 759 L791.3 757.35 L791.3 760.65 Z" fill="#000"/>
<path d="M704 882.5 L716.8 882.11" stroke="#444" stroke-width="0.6" fill="none"/>
<path d="M720.3 882 L716.85 883.76 L716.75 880.46 Z" fill="#000"/>
<text x="485.8" y="680.5" class="lab" font-size="9.9" textLength="54.2" lengthAdjust="spacingAndGlyphs" fill="#111">Heating Only</text>
<text x="565.3" y="731" class="lab" font-size="9.9" textLength="25.2" lengthAdjust="spacingAndGlyphs" fill="#111">Liquid</text>
<text x="570" y="789.7" class="lab" font-size="9.9" textLength="15.5" lengthAdjust="spacingAndGlyphs" fill="#111">Gas</text>
<text x="570.3" y="880.2" class="lab" font-size="9.9" textLength="15.5" lengthAdjust="spacingAndGlyphs" fill="#111">Gas</text>
<text x="517.1" y="921.8" class="it" font-size="11.2" textLength="33.8" lengthAdjust="spacingAndGlyphs" fill="#000">IU Side</text>
<text x="555.7" y="922.4" class="ar" font-size="11" textLength="9.8" lengthAdjust="spacingAndGlyphs" fill="#000">←</text>
<path d="M574.6 915.2 v8.6 M577.2 915.2 v8.6" stroke="#555" stroke-width="0.55" fill="none"/>
<text x="592.1" y="922.4" class="ar" font-size="11" textLength="9.8" lengthAdjust="spacingAndGlyphs" fill="#000">→</text>
<text x="604.6" y="921.8" class="it" font-size="11.2" textLength="37.6" lengthAdjust="spacingAndGlyphs" fill="#000">OU Side</text>
<g id="legend">
<rect x="697.2" y="962" width="138.8" height="30.8" fill="#fff"/>
<rect x="694" y="992.7" width="139.3" height="33.8" fill="#fff"/>
<rect x="655.8" y="968.8" width="41.5" height="56" fill="#fff"/>
<path d="M656 979.4H664.5" stroke="#ff3030" stroke-width="1.1" fill="none"/>
<path d="M694 979.4H698.5" stroke="#c5ead6" stroke-width="0.9" fill="none"/>
<path d="M656 1010.2H664.5" stroke="#2a86d6" stroke-width="1.1" fill="none"/>
<path d="M695 1007H699.3" stroke="#3a3a90" stroke-width="1.1" fill="none"/>
<rect x="664" y="971.4" width="30.2" height="15.6" fill="#ff0000" stroke="#6a1010" stroke-width="0.7"/>
<path d="M664 987L694.2 971.4" stroke="#3a0000" stroke-width="0.6" fill="none"/>
<rect x="664" y="999.5" width="31.2" height="21.3" fill="#00b0f0" stroke="#1f4e79" stroke-width="0.7"/>
<path d="M664 1020.8L695.2 999.5" stroke="#10253f" stroke-width="0.6" fill="none"/>
<text x="711.5" y="985.2" class="it" font-size="16" textLength="75.3" lengthAdjust="spacing" fill="#000">Condenser</text>
<text x="708" y="1014" class="it" font-size="16" textLength="80.3" lengthAdjust="spacing" fill="#000">Evaporator</text>
</g>
</svg>
<div class="t nt" style="left:14.4px;top:939.5px;font-weight:bold;transform:scaleX(0.865)">Note:</div>
<div class="t nt j" style="left:14.4px;top:972.3px;width:789.2px">The number of indoor evaporators/condensers indicates the indoor load conditions. For</div>
<div class="t nt j" style="left:14.4px;top:992.9px;width:789.2px">example, 2 evaporators and 1 condenser indicates the cooling dominant condition; 3</div>
<div class="t nt" style="left:14.4px;top:1013.6px">evaporators and non condenser indicates cooling only condition.</div>
</body></html>
